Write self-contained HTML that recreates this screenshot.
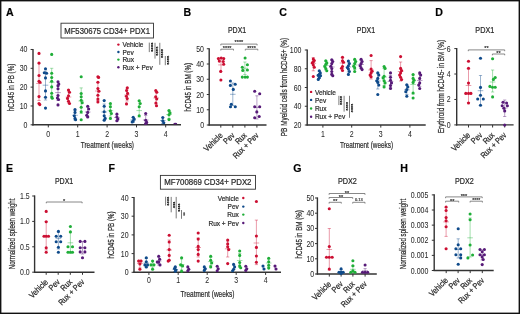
<!DOCTYPE html>
<html><head><meta charset="utf-8"><style>
html,body{margin:0;padding:0;background:#fff;}
body{width:520px;height:314px;overflow:hidden;}
svg{display:block;font-family:"Liberation Sans",sans-serif;will-change:transform;}
text{stroke:#2a2a2a;stroke-width:0.22px;}
</style></head><body>
<svg width="520" height="314" viewBox="0 0 520 314">
<rect width="520" height="314" fill="#fff"/>
<rect x="0.7" y="0.7" width="518.6" height="312.6" fill="none" stroke="#111" stroke-width="1.4"/>
<text x="5.90" y="15.60" font-size="10.60" text-anchor="start" fill="#000" font-weight="bold" >A</text>
<rect x="61" y="23.2" width="92.5" height="14.8" fill="none" stroke="#333333" stroke-width="0.9"/>
<text x="107.10" y="33.90" font-size="8.20" text-anchor="middle" fill="#2a2a2a" textLength="85.80" lengthAdjust="spacingAndGlyphs" >MF530675 CD34+ PDX1</text>
<line x1="33.00" y1="125.40" x2="33.00" y2="48.88" stroke="#333333" stroke-width="1.40" />
<line x1="30.60" y1="124.80" x2="33.00" y2="124.80" stroke="#333333" stroke-width="1.00" />
<text x="27.40" y="127.80" font-size="8.60" text-anchor="end" fill="#2a2a2a" textLength="3.87" lengthAdjust="spacingAndGlyphs" style="stroke-width:0.05px">0</text>
<line x1="30.60" y1="105.97" x2="33.00" y2="105.97" stroke="#333333" stroke-width="1.00" />
<text x="27.40" y="108.97" font-size="8.60" text-anchor="end" fill="#2a2a2a" textLength="7.75" lengthAdjust="spacingAndGlyphs" style="stroke-width:0.05px">10</text>
<line x1="30.60" y1="87.14" x2="33.00" y2="87.14" stroke="#333333" stroke-width="1.00" />
<text x="27.40" y="90.14" font-size="8.60" text-anchor="end" fill="#2a2a2a" textLength="7.75" lengthAdjust="spacingAndGlyphs" style="stroke-width:0.05px">20</text>
<line x1="30.60" y1="68.31" x2="33.00" y2="68.31" stroke="#333333" stroke-width="1.00" />
<text x="27.40" y="71.31" font-size="8.60" text-anchor="end" fill="#2a2a2a" textLength="7.75" lengthAdjust="spacingAndGlyphs" style="stroke-width:0.05px">30</text>
<line x1="30.60" y1="49.48" x2="33.00" y2="49.48" stroke="#333333" stroke-width="1.00" />
<text x="27.40" y="52.48" font-size="8.60" text-anchor="end" fill="#2a2a2a" textLength="7.75" lengthAdjust="spacingAndGlyphs" style="stroke-width:0.05px">40</text>
<line x1="32.30" y1="124.80" x2="181.00" y2="124.80" stroke="#333333" stroke-width="1.40" />
<line x1="48.30" y1="124.80" x2="48.30" y2="127.40" stroke="#333333" stroke-width="1.00" />
<line x1="77.70" y1="124.80" x2="77.70" y2="127.40" stroke="#333333" stroke-width="1.00" />
<line x1="107.10" y1="124.80" x2="107.10" y2="127.40" stroke="#333333" stroke-width="1.00" />
<line x1="136.50" y1="124.80" x2="136.50" y2="127.40" stroke="#333333" stroke-width="1.00" />
<line x1="165.70" y1="124.80" x2="165.70" y2="127.40" stroke="#333333" stroke-width="1.00" />
<text x="48.30" y="136.80" font-size="8.60" text-anchor="middle" fill="#2a2a2a" textLength="3.87" lengthAdjust="spacingAndGlyphs" style="stroke-width:0.05px">0</text>
<text x="77.70" y="136.80" font-size="8.60" text-anchor="middle" fill="#2a2a2a" textLength="3.87" lengthAdjust="spacingAndGlyphs" style="stroke-width:0.05px">1</text>
<text x="107.10" y="136.80" font-size="8.60" text-anchor="middle" fill="#2a2a2a" textLength="3.87" lengthAdjust="spacingAndGlyphs" style="stroke-width:0.05px">2</text>
<text x="136.50" y="136.80" font-size="8.60" text-anchor="middle" fill="#2a2a2a" textLength="3.87" lengthAdjust="spacingAndGlyphs" style="stroke-width:0.05px">3</text>
<text x="165.70" y="136.80" font-size="8.60" text-anchor="middle" fill="#2a2a2a" textLength="3.87" lengthAdjust="spacingAndGlyphs" style="stroke-width:0.05px">4</text>
<text x="107.40" y="148.40" font-size="9.80" text-anchor="middle" fill="#2a2a2a" textLength="53.20" lengthAdjust="spacingAndGlyphs" >Treatment (weeks)</text>
<text transform="translate(10.80,87.50) rotate(-90)" x="0" y="3.53" font-size="9.80" text-anchor="middle" fill="#2a2a2a" textLength="47.60" lengthAdjust="spacingAndGlyphs">hCD45 in PB (%)</text>
<circle cx="118.40" cy="44.60" r="1.20" fill="#cc0f32"/>
<text x="122.40" y="47.37" font-size="7.70" text-anchor="start" fill="#2a2a2a" textLength="21.10" lengthAdjust="spacingAndGlyphs" >Vehicle</text>
<circle cx="118.40" cy="52.00" r="1.20" fill="#0f4a8a"/>
<text x="122.40" y="54.77" font-size="7.70" text-anchor="start" fill="#2a2a2a" textLength="11.28" lengthAdjust="spacingAndGlyphs" >Pev</text>
<circle cx="118.40" cy="59.60" r="1.20" fill="#1fae38"/>
<text x="122.40" y="62.37" font-size="7.70" text-anchor="start" fill="#2a2a2a" textLength="11.64" lengthAdjust="spacingAndGlyphs" >Rux</text>
<circle cx="118.40" cy="67.30" r="1.20" fill="#571a78"/>
<text x="122.40" y="70.07" font-size="7.70" text-anchor="start" fill="#2a2a2a" textLength="30.38" lengthAdjust="spacingAndGlyphs" >Rux + Pev</text>
<line x1="149.30" y1="42.60" x2="149.30" y2="52.10" stroke="#5a5a5a" stroke-width="0.80" />
<text transform="translate(148.80,47.15) rotate(90)" x="0" y="0" font-size="5.9" text-anchor="middle" fill="#000" style="stroke:#000;stroke-width:0.2px" textLength="9.50" lengthAdjust="spacingAndGlyphs">****</text>
<line x1="155.00" y1="42.80" x2="155.00" y2="58.60" stroke="#5a5a5a" stroke-width="0.80" />
<text transform="translate(154.30,51.15) rotate(90)" x="0" y="0" font-size="5.9" text-anchor="middle" fill="#000" style="stroke:#000;stroke-width:0.2px" textLength="9.10" lengthAdjust="spacingAndGlyphs">****</text>
<line x1="159.80" y1="42.80" x2="159.80" y2="64.80" stroke="#5a5a5a" stroke-width="0.80" />
<text transform="translate(159.30,53.50) rotate(90)" x="0" y="0" font-size="5.9" text-anchor="middle" fill="#000" style="stroke:#000;stroke-width:0.2px" textLength="9.00" lengthAdjust="spacingAndGlyphs">****</text>
<line x1="165.30" y1="56.00" x2="165.30" y2="65.20" stroke="#5a5a5a" stroke-width="0.80" />
<text transform="translate(164.50,60.25) rotate(90)" x="0" y="0" font-size="5.9" text-anchor="middle" fill="#000" style="stroke:#000;stroke-width:0.2px" textLength="9.10" lengthAdjust="spacingAndGlyphs">****</text>
<g stroke="#cc0f32" stroke-width="0.75" stroke-opacity="0.55">
<line x1="39.00" y1="63.50" x2="39.00" y2="100.50"/>
<line x1="37.40" y1="63.50" x2="40.60" y2="63.50"/>
<line x1="37.40" y1="100.50" x2="40.60" y2="100.50"/>
<line x1="36.20" y1="83.50" x2="41.80" y2="83.50"/>
</g>
<circle cx="39.00" cy="53.40" r="1.55" fill="#cc0f32"/>
<circle cx="39.00" cy="63.10" r="1.55" fill="#cc0f32"/>
<circle cx="39.00" cy="75.50" r="1.55" fill="#cc0f32"/>
<circle cx="39.00" cy="81.20" r="1.55" fill="#cc0f32"/>
<circle cx="40.00" cy="82.30" r="1.55" fill="#cc0f32"/>
<circle cx="39.00" cy="96.60" r="1.55" fill="#cc0f32"/>
<circle cx="39.00" cy="103.50" r="1.55" fill="#cc0f32"/>
<circle cx="39.80" cy="104.60" r="1.55" fill="#cc0f32"/>
<g stroke="#0f4a8a" stroke-width="0.75" stroke-opacity="0.55">
<line x1="45.50" y1="71.00" x2="45.50" y2="100.00"/>
<line x1="43.90" y1="71.00" x2="47.10" y2="71.00"/>
<line x1="43.90" y1="100.00" x2="47.10" y2="100.00"/>
<line x1="42.70" y1="85.20" x2="48.30" y2="85.20"/>
</g>
<circle cx="45.50" cy="68.80" r="1.55" fill="#0f4a8a"/>
<circle cx="44.30" cy="72.80" r="1.55" fill="#0f4a8a"/>
<circle cx="46.60" cy="73.20" r="1.55" fill="#0f4a8a"/>
<circle cx="45.50" cy="77.90" r="1.55" fill="#0f4a8a"/>
<circle cx="45.50" cy="90.90" r="1.55" fill="#0f4a8a"/>
<circle cx="45.50" cy="97.20" r="1.55" fill="#0f4a8a"/>
<circle cx="45.50" cy="108.10" r="1.55" fill="#0f4a8a"/>
<g stroke="#1fae38" stroke-width="0.75" stroke-opacity="0.55">
<line x1="51.70" y1="68.30" x2="51.70" y2="96.00"/>
<line x1="50.10" y1="68.30" x2="53.30" y2="68.30"/>
<line x1="50.10" y1="96.00" x2="53.30" y2="96.00"/>
<line x1="48.90" y1="82.30" x2="54.50" y2="82.30"/>
</g>
<circle cx="51.70" cy="54.40" r="1.55" fill="#1fae38"/>
<circle cx="51.70" cy="73.30" r="1.55" fill="#1fae38"/>
<circle cx="51.70" cy="77.50" r="1.55" fill="#1fae38"/>
<circle cx="51.70" cy="81.20" r="1.55" fill="#1fae38"/>
<circle cx="51.70" cy="86.90" r="1.55" fill="#1fae38"/>
<circle cx="51.70" cy="93.20" r="1.55" fill="#1fae38"/>
<circle cx="51.70" cy="97.00" r="1.55" fill="#1fae38"/>
<circle cx="52.30" cy="98.30" r="1.55" fill="#1fae38"/>
<g stroke="#571a78" stroke-width="0.75" stroke-opacity="0.55">
<line x1="58.00" y1="85.00" x2="58.00" y2="100.50"/>
<line x1="56.40" y1="85.00" x2="59.60" y2="85.00"/>
<line x1="56.40" y1="100.50" x2="59.60" y2="100.50"/>
<line x1="55.20" y1="92.60" x2="60.80" y2="92.60"/>
</g>
<circle cx="58.00" cy="81.70" r="1.55" fill="#571a78"/>
<circle cx="58.80" cy="84.00" r="1.55" fill="#571a78"/>
<circle cx="58.00" cy="85.70" r="1.55" fill="#571a78"/>
<circle cx="58.00" cy="88.80" r="1.55" fill="#571a78"/>
<circle cx="58.00" cy="95.50" r="1.55" fill="#571a78"/>
<circle cx="57.40" cy="98.00" r="1.55" fill="#571a78"/>
<circle cx="58.50" cy="99.50" r="1.55" fill="#571a78"/>
<circle cx="58.00" cy="104.90" r="1.55" fill="#571a78"/>
<g stroke="#cc0f32" stroke-width="0.75" stroke-opacity="0.55">
<line x1="68.50" y1="91.00" x2="68.50" y2="103.00"/>
<line x1="66.90" y1="91.00" x2="70.10" y2="91.00"/>
<line x1="66.90" y1="103.00" x2="70.10" y2="103.00"/>
<line x1="65.70" y1="97.00" x2="71.30" y2="97.00"/>
</g>
<circle cx="68.50" cy="90.10" r="1.55" fill="#cc0f32"/>
<circle cx="69.50" cy="92.30" r="1.55" fill="#cc0f32"/>
<circle cx="68.50" cy="95.70" r="1.55" fill="#cc0f32"/>
<circle cx="67.50" cy="98.40" r="1.55" fill="#cc0f32"/>
<circle cx="68.50" cy="101.30" r="1.55" fill="#cc0f32"/>
<circle cx="69.50" cy="103.50" r="1.55" fill="#cc0f32"/>
<g stroke="#0f4a8a" stroke-width="0.75" stroke-opacity="0.55">
<line x1="75.00" y1="110.50" x2="75.00" y2="120.00"/>
<line x1="73.40" y1="110.50" x2="76.60" y2="110.50"/>
<line x1="73.40" y1="120.00" x2="76.60" y2="120.00"/>
<line x1="72.20" y1="115.30" x2="77.80" y2="115.30"/>
</g>
<circle cx="75.00" cy="109.50" r="1.55" fill="#0f4a8a"/>
<circle cx="75.00" cy="112.40" r="1.55" fill="#0f4a8a"/>
<circle cx="74.30" cy="115.80" r="1.55" fill="#0f4a8a"/>
<circle cx="75.00" cy="118.40" r="1.55" fill="#0f4a8a"/>
<circle cx="75.60" cy="119.80" r="1.55" fill="#0f4a8a"/>
<g stroke="#1fae38" stroke-width="0.75" stroke-opacity="0.55">
<line x1="81.20" y1="87.90" x2="81.20" y2="113.50"/>
<line x1="79.60" y1="87.90" x2="82.80" y2="87.90"/>
<line x1="79.60" y1="113.50" x2="82.80" y2="113.50"/>
<line x1="78.40" y1="101.00" x2="84.00" y2="101.00"/>
</g>
<circle cx="81.20" cy="76.70" r="1.55" fill="#1fae38"/>
<circle cx="81.20" cy="93.50" r="1.55" fill="#1fae38"/>
<circle cx="81.20" cy="96.80" r="1.55" fill="#1fae38"/>
<circle cx="81.20" cy="100.20" r="1.55" fill="#1fae38"/>
<circle cx="82.20" cy="102.80" r="1.55" fill="#1fae38"/>
<circle cx="81.20" cy="107.30" r="1.55" fill="#1fae38"/>
<circle cx="81.20" cy="111.70" r="1.55" fill="#1fae38"/>
<circle cx="81.20" cy="119.80" r="1.55" fill="#1fae38"/>
<g stroke="#571a78" stroke-width="0.75" stroke-opacity="0.55">
<line x1="87.70" y1="107.00" x2="87.70" y2="117.00"/>
<line x1="86.10" y1="107.00" x2="89.30" y2="107.00"/>
<line x1="86.10" y1="117.00" x2="89.30" y2="117.00"/>
<line x1="84.90" y1="112.00" x2="90.50" y2="112.00"/>
</g>
<circle cx="87.70" cy="106.20" r="1.55" fill="#571a78"/>
<circle cx="88.70" cy="109.00" r="1.55" fill="#571a78"/>
<circle cx="87.70" cy="112.40" r="1.55" fill="#571a78"/>
<circle cx="86.70" cy="115.30" r="1.55" fill="#571a78"/>
<circle cx="87.70" cy="116.90" r="1.55" fill="#571a78"/>
<g stroke="#cc0f32" stroke-width="0.75" stroke-opacity="0.55">
<line x1="97.90" y1="82.30" x2="97.90" y2="100.50"/>
<line x1="96.30" y1="82.30" x2="99.50" y2="82.30"/>
<line x1="96.30" y1="100.50" x2="99.50" y2="100.50"/>
<line x1="95.10" y1="91.00" x2="100.70" y2="91.00"/>
</g>
<circle cx="97.90" cy="76.70" r="1.55" fill="#cc0f32"/>
<circle cx="98.60" cy="77.40" r="1.55" fill="#cc0f32"/>
<circle cx="97.90" cy="82.30" r="1.55" fill="#cc0f32"/>
<circle cx="97.90" cy="88.60" r="1.55" fill="#cc0f32"/>
<circle cx="98.90" cy="91.20" r="1.55" fill="#cc0f32"/>
<circle cx="97.90" cy="95.20" r="1.55" fill="#cc0f32"/>
<circle cx="97.90" cy="99.00" r="1.55" fill="#cc0f32"/>
<circle cx="97.90" cy="101.90" r="1.55" fill="#cc0f32"/>
<g stroke="#0f4a8a" stroke-width="0.75" stroke-opacity="0.55">
<line x1="104.20" y1="104.00" x2="104.20" y2="120.00"/>
<line x1="102.60" y1="104.00" x2="105.80" y2="104.00"/>
<line x1="102.60" y1="120.00" x2="105.80" y2="120.00"/>
<line x1="101.40" y1="112.00" x2="107.00" y2="112.00"/>
</g>
<circle cx="104.20" cy="100.60" r="1.55" fill="#0f4a8a"/>
<circle cx="104.20" cy="106.20" r="1.55" fill="#0f4a8a"/>
<circle cx="104.20" cy="111.80" r="1.55" fill="#0f4a8a"/>
<circle cx="104.20" cy="115.80" r="1.55" fill="#0f4a8a"/>
<circle cx="105.20" cy="118.40" r="1.55" fill="#0f4a8a"/>
<circle cx="104.20" cy="120.20" r="1.55" fill="#0f4a8a"/>
<g stroke="#1fae38" stroke-width="0.75" stroke-opacity="0.55">
<line x1="110.40" y1="105.00" x2="110.40" y2="116.00"/>
<line x1="108.80" y1="105.00" x2="112.00" y2="105.00"/>
<line x1="108.80" y1="116.00" x2="112.00" y2="116.00"/>
<line x1="107.60" y1="110.70" x2="113.20" y2="110.70"/>
</g>
<circle cx="110.40" cy="103.50" r="1.55" fill="#1fae38"/>
<circle cx="110.40" cy="106.80" r="1.55" fill="#1fae38"/>
<circle cx="110.40" cy="110.90" r="1.55" fill="#1fae38"/>
<circle cx="111.40" cy="113.50" r="1.55" fill="#1fae38"/>
<circle cx="110.40" cy="118.40" r="1.55" fill="#1fae38"/>
<g stroke="#571a78" stroke-width="0.75" stroke-opacity="0.55">
<line x1="116.90" y1="114.50" x2="116.90" y2="121.00"/>
<line x1="115.30" y1="114.50" x2="118.50" y2="114.50"/>
<line x1="115.30" y1="121.00" x2="118.50" y2="121.00"/>
<line x1="114.10" y1="117.50" x2="119.70" y2="117.50"/>
</g>
<circle cx="116.90" cy="114.00" r="1.55" fill="#571a78"/>
<circle cx="116.90" cy="116.90" r="1.55" fill="#571a78"/>
<circle cx="117.90" cy="119.10" r="1.55" fill="#571a78"/>
<circle cx="116.90" cy="120.70" r="1.55" fill="#571a78"/>
<g stroke="#cc0f32" stroke-width="0.75" stroke-opacity="0.55">
<line x1="127.00" y1="89.00" x2="127.00" y2="101.00"/>
<line x1="125.40" y1="89.00" x2="128.60" y2="89.00"/>
<line x1="125.40" y1="101.00" x2="128.60" y2="101.00"/>
<line x1="124.20" y1="95.00" x2="129.80" y2="95.00"/>
</g>
<circle cx="127.30" cy="87.80" r="1.55" fill="#cc0f32"/>
<circle cx="126.60" cy="90.50" r="1.55" fill="#cc0f32"/>
<circle cx="127.60" cy="93.40" r="1.55" fill="#cc0f32"/>
<circle cx="126.40" cy="96.30" r="1.55" fill="#cc0f32"/>
<circle cx="127.20" cy="98.60" r="1.55" fill="#cc0f32"/>
<circle cx="126.50" cy="103.90" r="1.55" fill="#cc0f32"/>
<g stroke="#0f4a8a" stroke-width="0.75" stroke-opacity="0.55">
<line x1="133.20" y1="117.50" x2="133.20" y2="122.50"/>
<line x1="131.60" y1="117.50" x2="134.80" y2="117.50"/>
<line x1="131.60" y1="122.50" x2="134.80" y2="122.50"/>
<line x1="130.40" y1="120.00" x2="136.00" y2="120.00"/>
</g>
<circle cx="133.20" cy="117.30" r="1.55" fill="#0f4a8a"/>
<circle cx="134.20" cy="119.00" r="1.55" fill="#0f4a8a"/>
<circle cx="133.20" cy="120.90" r="1.55" fill="#0f4a8a"/>
<circle cx="132.20" cy="122.00" r="1.55" fill="#0f4a8a"/>
<g stroke="#1fae38" stroke-width="0.75" stroke-opacity="0.55">
<line x1="139.20" y1="101.00" x2="139.20" y2="117.00"/>
<line x1="137.60" y1="101.00" x2="140.80" y2="101.00"/>
<line x1="137.60" y1="117.00" x2="140.80" y2="117.00"/>
<line x1="136.40" y1="110.60" x2="142.00" y2="110.60"/>
</g>
<circle cx="139.20" cy="100.80" r="1.55" fill="#1fae38"/>
<circle cx="140.20" cy="103.50" r="1.55" fill="#1fae38"/>
<circle cx="139.20" cy="106.80" r="1.55" fill="#1fae38"/>
<circle cx="139.20" cy="115.70" r="1.55" fill="#1fae38"/>
<g stroke="#571a78" stroke-width="0.75" stroke-opacity="0.55">
<line x1="145.70" y1="115.50" x2="145.70" y2="124.00"/>
<line x1="144.10" y1="115.50" x2="147.30" y2="115.50"/>
<line x1="144.10" y1="124.00" x2="147.30" y2="124.00"/>
<line x1="142.90" y1="120.00" x2="148.50" y2="120.00"/>
</g>
<circle cx="145.70" cy="113.50" r="1.55" fill="#571a78"/>
<circle cx="145.70" cy="120.20" r="1.55" fill="#571a78"/>
<circle cx="146.70" cy="122.40" r="1.55" fill="#571a78"/>
<circle cx="145.70" cy="123.50" r="1.55" fill="#571a78"/>
<g stroke="#cc0f32" stroke-width="0.75" stroke-opacity="0.55">
<line x1="156.20" y1="92.00" x2="156.20" y2="104.00"/>
<line x1="154.60" y1="92.00" x2="157.80" y2="92.00"/>
<line x1="154.60" y1="104.00" x2="157.80" y2="104.00"/>
<line x1="153.40" y1="98.00" x2="159.00" y2="98.00"/>
</g>
<circle cx="155.80" cy="90.50" r="1.55" fill="#cc0f32"/>
<circle cx="156.80" cy="92.30" r="1.55" fill="#cc0f32"/>
<circle cx="155.70" cy="96.80" r="1.55" fill="#cc0f32"/>
<circle cx="156.70" cy="99.00" r="1.55" fill="#cc0f32"/>
<circle cx="155.90" cy="103.00" r="1.55" fill="#cc0f32"/>
<circle cx="156.50" cy="105.70" r="1.55" fill="#cc0f32"/>
<g stroke="#0f4a8a" stroke-width="0.75" stroke-opacity="0.55">
<line x1="162.80" y1="117.50" x2="162.80" y2="123.50"/>
<line x1="161.20" y1="117.50" x2="164.40" y2="117.50"/>
<line x1="161.20" y1="123.50" x2="164.40" y2="123.50"/>
<line x1="160.00" y1="120.50" x2="165.60" y2="120.50"/>
</g>
<circle cx="162.80" cy="117.50" r="1.55" fill="#0f4a8a"/>
<circle cx="162.80" cy="120.90" r="1.55" fill="#0f4a8a"/>
<circle cx="163.80" cy="122.80" r="1.55" fill="#0f4a8a"/>
<g stroke="#1fae38" stroke-width="0.75" stroke-opacity="0.55">
<line x1="169.00" y1="111.00" x2="169.00" y2="118.50"/>
<line x1="167.40" y1="111.00" x2="170.60" y2="111.00"/>
<line x1="167.40" y1="118.50" x2="170.60" y2="118.50"/>
<line x1="166.20" y1="114.50" x2="171.80" y2="114.50"/>
</g>
<circle cx="169.00" cy="110.60" r="1.55" fill="#1fae38"/>
<circle cx="170.00" cy="112.90" r="1.55" fill="#1fae38"/>
<circle cx="169.00" cy="114.80" r="1.55" fill="#1fae38"/>
<circle cx="169.00" cy="119.60" r="1.55" fill="#1fae38"/>
<ellipse cx="175.3" cy="123.6" rx="1.9" ry="0.9" fill="#571a78"/>
<text x="183.50" y="15.80" font-size="10.60" text-anchor="start" fill="#000" font-weight="bold" >B</text>
<text x="237.10" y="33.30" font-size="8.60" text-anchor="middle" fill="#2a2a2a" textLength="18.30" lengthAdjust="spacingAndGlyphs" >PDX1</text>
<line x1="209.20" y1="125.60" x2="209.20" y2="48.15" stroke="#333333" stroke-width="1.40" />
<line x1="206.80" y1="125.00" x2="209.20" y2="125.00" stroke="#333333" stroke-width="1.00" />
<text x="204.00" y="128.00" font-size="8.60" text-anchor="end" fill="#2a2a2a" textLength="3.87" lengthAdjust="spacingAndGlyphs" style="stroke-width:0.05px">0</text>
<line x1="206.80" y1="109.75" x2="209.20" y2="109.75" stroke="#333333" stroke-width="1.00" />
<text x="204.00" y="112.75" font-size="8.60" text-anchor="end" fill="#2a2a2a" textLength="7.75" lengthAdjust="spacingAndGlyphs" style="stroke-width:0.05px">10</text>
<line x1="206.80" y1="94.50" x2="209.20" y2="94.50" stroke="#333333" stroke-width="1.00" />
<text x="204.00" y="97.50" font-size="8.60" text-anchor="end" fill="#2a2a2a" textLength="7.75" lengthAdjust="spacingAndGlyphs" style="stroke-width:0.05px">20</text>
<line x1="206.80" y1="79.25" x2="209.20" y2="79.25" stroke="#333333" stroke-width="1.00" />
<text x="204.00" y="82.25" font-size="8.60" text-anchor="end" fill="#2a2a2a" textLength="7.75" lengthAdjust="spacingAndGlyphs" style="stroke-width:0.05px">30</text>
<line x1="206.80" y1="64.00" x2="209.20" y2="64.00" stroke="#333333" stroke-width="1.00" />
<text x="204.00" y="67.00" font-size="8.60" text-anchor="end" fill="#2a2a2a" textLength="7.75" lengthAdjust="spacingAndGlyphs" style="stroke-width:0.05px">40</text>
<line x1="206.80" y1="48.75" x2="209.20" y2="48.75" stroke="#333333" stroke-width="1.00" />
<text x="204.00" y="51.75" font-size="8.60" text-anchor="end" fill="#2a2a2a" textLength="7.75" lengthAdjust="spacingAndGlyphs" style="stroke-width:0.05px">50</text>
<line x1="208.50" y1="125.00" x2="266.50" y2="125.00" stroke="#333333" stroke-width="1.40" />
<line x1="220.80" y1="125.00" x2="220.80" y2="127.60" stroke="#333333" stroke-width="1.00" />
<line x1="232.80" y1="125.00" x2="232.80" y2="127.60" stroke="#333333" stroke-width="1.00" />
<line x1="244.90" y1="125.00" x2="244.90" y2="127.60" stroke="#333333" stroke-width="1.00" />
<line x1="256.90" y1="125.00" x2="256.90" y2="127.60" stroke="#333333" stroke-width="1.00" />
<text transform="translate(223.20,136.00) rotate(-45)" x="0" y="0" font-size="8.40" text-anchor="end" fill="#2a2a2a" textLength="22.75" lengthAdjust="spacingAndGlyphs">Vehicle</text>
<text transform="translate(235.20,136.00) rotate(-45)" x="0" y="0" font-size="8.40" text-anchor="end" fill="#2a2a2a" textLength="12.16" lengthAdjust="spacingAndGlyphs">Pev</text>
<text transform="translate(247.30,136.00) rotate(-45)" x="0" y="0" font-size="8.40" text-anchor="end" fill="#2a2a2a" textLength="12.55" lengthAdjust="spacingAndGlyphs">Rux</text>
<text transform="translate(259.30,136.00) rotate(-45)" x="0" y="0" font-size="8.40" text-anchor="end" fill="#2a2a2a" textLength="32.75" lengthAdjust="spacingAndGlyphs">Rux + Pev</text>
<text transform="translate(187.80,87.20) rotate(-90)" x="0" y="3.53" font-size="9.80" text-anchor="middle" fill="#2a2a2a" textLength="48.40" lengthAdjust="spacingAndGlyphs">hCD45 in BM (%)</text>
<path d="M220.80 45.40 V44.10 H257.10 V45.40" fill="none" stroke="#6a6a6a" stroke-width="0.8"/>
<text x="238.95" y="44.45" font-size="5.60" text-anchor="middle" fill="#222" style="stroke:#222;stroke-width:0.15px">****</text>
<path d="M220.80 50.50 V49.20 H233.50 V50.50" fill="none" stroke="#6a6a6a" stroke-width="0.8"/>
<text x="227.15" y="50.25" font-size="5.60" text-anchor="middle" fill="#222" style="stroke:#222;stroke-width:0.15px">****</text>
<path d="M245.30 50.50 V49.20 H257.80 V50.50" fill="none" stroke="#6a6a6a" stroke-width="0.8"/>
<text x="251.55" y="50.25" font-size="5.60" text-anchor="middle" fill="#222" style="stroke:#222;stroke-width:0.15px">****</text>
<g stroke="#cc0f32" stroke-width="0.75" stroke-opacity="0.55">
<line x1="221.00" y1="58.00" x2="221.00" y2="71.50"/>
<line x1="219.40" y1="58.00" x2="222.60" y2="58.00"/>
<line x1="219.40" y1="71.50" x2="222.60" y2="71.50"/>
<line x1="218.20" y1="64.90" x2="223.80" y2="64.90"/>
</g>
<circle cx="218.40" cy="58.60" r="1.55" fill="#cc0f32"/>
<circle cx="221.20" cy="58.00" r="1.55" fill="#cc0f32"/>
<circle cx="223.70" cy="58.60" r="1.55" fill="#cc0f32"/>
<circle cx="219.30" cy="61.10" r="1.55" fill="#cc0f32"/>
<circle cx="223.20" cy="61.50" r="1.55" fill="#cc0f32"/>
<circle cx="223.70" cy="64.30" r="1.55" fill="#cc0f32"/>
<circle cx="220.70" cy="71.40" r="1.55" fill="#cc0f32"/>
<circle cx="220.90" cy="80.00" r="1.55" fill="#cc0f32"/>
<g stroke="#0f4a8a" stroke-width="0.75" stroke-opacity="0.55">
<line x1="232.80" y1="83.00" x2="232.80" y2="105.50"/>
<line x1="231.20" y1="83.00" x2="234.40" y2="83.00"/>
<line x1="231.20" y1="105.50" x2="234.40" y2="105.50"/>
<line x1="230.00" y1="94.30" x2="235.60" y2="94.30"/>
</g>
<circle cx="230.40" cy="81.00" r="1.55" fill="#0f4a8a"/>
<circle cx="235.20" cy="84.20" r="1.55" fill="#0f4a8a"/>
<circle cx="230.40" cy="85.40" r="1.55" fill="#0f4a8a"/>
<circle cx="233.30" cy="89.40" r="1.55" fill="#0f4a8a"/>
<circle cx="231.30" cy="104.30" r="1.55" fill="#0f4a8a"/>
<circle cx="230.50" cy="106.80" r="1.55" fill="#0f4a8a"/>
<circle cx="235.30" cy="106.80" r="1.55" fill="#0f4a8a"/>
<g stroke="#1fae38" stroke-width="0.75" stroke-opacity="0.55">
<line x1="244.90" y1="62.00" x2="244.90" y2="74.50"/>
<line x1="243.30" y1="62.00" x2="246.50" y2="62.00"/>
<line x1="243.30" y1="74.50" x2="246.50" y2="74.50"/>
<line x1="242.10" y1="68.20" x2="247.70" y2="68.20"/>
</g>
<circle cx="245.10" cy="58.00" r="1.55" fill="#1fae38"/>
<circle cx="247.40" cy="64.70" r="1.55" fill="#1fae38"/>
<circle cx="242.30" cy="67.20" r="1.55" fill="#1fae38"/>
<circle cx="242.80" cy="70.40" r="1.55" fill="#1fae38"/>
<circle cx="247.40" cy="70.00" r="1.55" fill="#1fae38"/>
<circle cx="242.30" cy="77.10" r="1.55" fill="#1fae38"/>
<circle cx="245.10" cy="77.10" r="1.55" fill="#1fae38"/>
<circle cx="247.40" cy="77.10" r="1.55" fill="#1fae38"/>
<g stroke="#571a78" stroke-width="0.75" stroke-opacity="0.55">
<line x1="256.90" y1="95.80" x2="256.90" y2="119.00"/>
<line x1="255.30" y1="95.80" x2="258.50" y2="95.80"/>
<line x1="255.30" y1="119.00" x2="258.50" y2="119.00"/>
<line x1="254.10" y1="107.40" x2="259.70" y2="107.40"/>
</g>
<circle cx="254.70" cy="91.20" r="1.55" fill="#571a78"/>
<circle cx="259.70" cy="93.70" r="1.55" fill="#571a78"/>
<circle cx="254.70" cy="106.80" r="1.55" fill="#571a78"/>
<circle cx="259.70" cy="106.80" r="1.55" fill="#571a78"/>
<circle cx="256.80" cy="111.90" r="1.55" fill="#571a78"/>
<circle cx="254.70" cy="117.70" r="1.55" fill="#571a78"/>
<circle cx="259.20" cy="116.50" r="1.55" fill="#571a78"/>
<text x="279.30" y="15.80" font-size="10.60" text-anchor="start" fill="#000" font-weight="bold" >C</text>
<text x="366.00" y="33.10" font-size="8.60" text-anchor="middle" fill="#2a2a2a" textLength="18.30" lengthAdjust="spacingAndGlyphs" >PDX1</text>
<line x1="307.20" y1="125.60" x2="307.20" y2="49.40" stroke="#333333" stroke-width="1.40" />
<line x1="304.80" y1="125.00" x2="307.20" y2="125.00" stroke="#333333" stroke-width="1.00" />
<text x="301.40" y="128.00" font-size="8.60" text-anchor="end" fill="#2a2a2a" textLength="7.75" lengthAdjust="spacingAndGlyphs" style="stroke-width:0.05px">20</text>
<line x1="304.80" y1="106.25" x2="307.20" y2="106.25" stroke="#333333" stroke-width="1.00" />
<text x="301.40" y="109.25" font-size="8.60" text-anchor="end" fill="#2a2a2a" textLength="7.75" lengthAdjust="spacingAndGlyphs" style="stroke-width:0.05px">40</text>
<line x1="304.80" y1="87.50" x2="307.20" y2="87.50" stroke="#333333" stroke-width="1.00" />
<text x="301.40" y="90.50" font-size="8.60" text-anchor="end" fill="#2a2a2a" textLength="7.75" lengthAdjust="spacingAndGlyphs" style="stroke-width:0.05px">60</text>
<line x1="304.80" y1="68.75" x2="307.20" y2="68.75" stroke="#333333" stroke-width="1.00" />
<text x="301.40" y="71.75" font-size="8.60" text-anchor="end" fill="#2a2a2a" textLength="7.75" lengthAdjust="spacingAndGlyphs" style="stroke-width:0.05px">80</text>
<line x1="304.80" y1="50.00" x2="307.20" y2="50.00" stroke="#333333" stroke-width="1.00" />
<text x="301.40" y="53.00" font-size="8.60" text-anchor="end" fill="#2a2a2a" textLength="11.62" lengthAdjust="spacingAndGlyphs" style="stroke-width:0.05px">100</text>
<line x1="306.50" y1="125.00" x2="425.70" y2="125.00" stroke="#333333" stroke-width="1.40" />
<line x1="322.90" y1="125.00" x2="322.90" y2="127.60" stroke="#333333" stroke-width="1.00" />
<line x1="351.70" y1="125.00" x2="351.70" y2="127.60" stroke="#333333" stroke-width="1.00" />
<line x1="380.80" y1="125.00" x2="380.80" y2="127.60" stroke="#333333" stroke-width="1.00" />
<line x1="409.90" y1="125.00" x2="409.90" y2="127.60" stroke="#333333" stroke-width="1.00" />
<text x="322.90" y="136.90" font-size="8.60" text-anchor="middle" fill="#2a2a2a" textLength="3.87" lengthAdjust="spacingAndGlyphs" style="stroke-width:0.05px">1</text>
<text x="351.70" y="136.90" font-size="8.60" text-anchor="middle" fill="#2a2a2a" textLength="3.87" lengthAdjust="spacingAndGlyphs" style="stroke-width:0.05px">2</text>
<text x="380.80" y="136.90" font-size="8.60" text-anchor="middle" fill="#2a2a2a" textLength="3.87" lengthAdjust="spacingAndGlyphs" style="stroke-width:0.05px">3</text>
<text x="409.90" y="136.90" font-size="8.60" text-anchor="middle" fill="#2a2a2a" textLength="3.87" lengthAdjust="spacingAndGlyphs" style="stroke-width:0.05px">4</text>
<text x="366.50" y="148.10" font-size="9.80" text-anchor="middle" fill="#2a2a2a" textLength="53.10" lengthAdjust="spacingAndGlyphs" >Treatment (weeks)</text>
<text transform="translate(283.90,87.00) rotate(-90)" x="0" y="3.53" font-size="9.80" text-anchor="middle" fill="#2a2a2a" textLength="98.30" lengthAdjust="spacingAndGlyphs">PB Myeloid cells from hCD45+ (%)</text>
<circle cx="311.10" cy="91.90" r="1.20" fill="#cc0f32"/>
<text x="314.90" y="94.67" font-size="7.70" text-anchor="start" fill="#2a2a2a" textLength="21.10" lengthAdjust="spacingAndGlyphs" >Vehicle</text>
<circle cx="311.10" cy="99.90" r="1.20" fill="#0f4a8a"/>
<text x="314.90" y="102.67" font-size="7.70" text-anchor="start" fill="#2a2a2a" textLength="11.28" lengthAdjust="spacingAndGlyphs" >Pev</text>
<circle cx="311.10" cy="108.50" r="1.20" fill="#1fae38"/>
<text x="314.90" y="111.27" font-size="7.70" text-anchor="start" fill="#2a2a2a" textLength="11.64" lengthAdjust="spacingAndGlyphs" >Rux</text>
<circle cx="311.10" cy="116.70" r="1.20" fill="#571a78"/>
<text x="314.90" y="119.47" font-size="7.70" text-anchor="start" fill="#2a2a2a" textLength="30.38" lengthAdjust="spacingAndGlyphs" >Rux + Pev</text>
<line x1="338.90" y1="95.80" x2="338.90" y2="105.10" stroke="#5a5a5a" stroke-width="0.80" />
<text transform="translate(338.10,100.50) rotate(90)" x="0" y="0" font-size="5.9" text-anchor="middle" fill="#000" style="stroke:#000;stroke-width:0.2px" textLength="9.00" lengthAdjust="spacingAndGlyphs">****</text>
<line x1="344.10" y1="95.80" x2="344.10" y2="111.60" stroke="#5a5a5a" stroke-width="0.80" />
<text transform="translate(343.50,106.35) rotate(90)" x="0" y="0" font-size="5.9" text-anchor="middle" fill="#000" style="stroke:#000;stroke-width:0.2px" textLength="8.70" lengthAdjust="spacingAndGlyphs">****</text>
<line x1="349.50" y1="95.80" x2="349.50" y2="117.80" stroke="#5a5a5a" stroke-width="0.80" />
<text transform="translate(349.00,108.05) rotate(90)" x="0" y="0" font-size="5.9" text-anchor="middle" fill="#000" style="stroke:#000;stroke-width:0.2px" textLength="8.70" lengthAdjust="spacingAndGlyphs">****</text>
<g stroke="#cc0f32" stroke-width="0.75" stroke-opacity="0.55">
<line x1="313.30" y1="57.50" x2="313.30" y2="70.80"/>
<line x1="311.70" y1="57.50" x2="314.90" y2="57.50"/>
<line x1="311.70" y1="70.80" x2="314.90" y2="70.80"/>
<line x1="310.50" y1="63.30" x2="316.10" y2="63.30"/>
</g>
<circle cx="313.30" cy="59.00" r="1.55" fill="#cc0f32"/>
<circle cx="314.30" cy="60.50" r="1.55" fill="#cc0f32"/>
<circle cx="313.30" cy="61.90" r="1.55" fill="#cc0f32"/>
<circle cx="312.30" cy="62.90" r="1.55" fill="#cc0f32"/>
<circle cx="313.30" cy="65.00" r="1.55" fill="#cc0f32"/>
<circle cx="314.30" cy="67.20" r="1.55" fill="#cc0f32"/>
<circle cx="313.30" cy="76.50" r="1.55" fill="#cc0f32"/>
<g stroke="#0f4a8a" stroke-width="0.75" stroke-opacity="0.55">
<line x1="319.30" y1="71.50" x2="319.30" y2="78.50"/>
<line x1="317.70" y1="71.50" x2="320.90" y2="71.50"/>
<line x1="317.70" y1="78.50" x2="320.90" y2="78.50"/>
<line x1="316.50" y1="75.00" x2="322.10" y2="75.00"/>
</g>
<circle cx="319.30" cy="70.80" r="1.55" fill="#0f4a8a"/>
<circle cx="320.30" cy="72.90" r="1.55" fill="#0f4a8a"/>
<circle cx="319.30" cy="74.40" r="1.55" fill="#0f4a8a"/>
<circle cx="318.20" cy="75.40" r="1.55" fill="#0f4a8a"/>
<circle cx="320.50" cy="75.80" r="1.55" fill="#0f4a8a"/>
<circle cx="319.30" cy="77.70" r="1.55" fill="#0f4a8a"/>
<circle cx="318.30" cy="79.40" r="1.55" fill="#0f4a8a"/>
<g stroke="#1fae38" stroke-width="0.75" stroke-opacity="0.55">
<line x1="325.80" y1="61.00" x2="325.80" y2="70.00"/>
<line x1="324.20" y1="61.00" x2="327.40" y2="61.00"/>
<line x1="324.20" y1="70.00" x2="327.40" y2="70.00"/>
<line x1="323.00" y1="65.50" x2="328.60" y2="65.50"/>
</g>
<circle cx="325.80" cy="60.80" r="1.55" fill="#1fae38"/>
<circle cx="326.80" cy="62.90" r="1.55" fill="#1fae38"/>
<circle cx="325.80" cy="64.30" r="1.55" fill="#1fae38"/>
<circle cx="324.80" cy="66.50" r="1.55" fill="#1fae38"/>
<circle cx="325.80" cy="68.60" r="1.55" fill="#1fae38"/>
<circle cx="326.80" cy="70.80" r="1.55" fill="#1fae38"/>
<g stroke="#571a78" stroke-width="0.75" stroke-opacity="0.55">
<line x1="331.80" y1="60.00" x2="331.80" y2="74.00"/>
<line x1="330.20" y1="60.00" x2="333.40" y2="60.00"/>
<line x1="330.20" y1="74.00" x2="333.40" y2="74.00"/>
<line x1="329.00" y1="67.00" x2="334.60" y2="67.00"/>
</g>
<circle cx="331.80" cy="59.80" r="1.55" fill="#571a78"/>
<circle cx="332.80" cy="61.50" r="1.55" fill="#571a78"/>
<circle cx="331.80" cy="63.60" r="1.55" fill="#571a78"/>
<circle cx="330.80" cy="66.20" r="1.55" fill="#571a78"/>
<circle cx="331.80" cy="68.60" r="1.55" fill="#571a78"/>
<circle cx="331.80" cy="71.50" r="1.55" fill="#571a78"/>
<circle cx="331.80" cy="74.40" r="1.55" fill="#571a78"/>
<circle cx="332.80" cy="75.80" r="1.55" fill="#571a78"/>
<g stroke="#cc0f32" stroke-width="0.75" stroke-opacity="0.55">
<line x1="342.50" y1="58.00" x2="342.50" y2="68.50"/>
<line x1="340.90" y1="58.00" x2="344.10" y2="58.00"/>
<line x1="340.90" y1="68.50" x2="344.10" y2="68.50"/>
<line x1="339.70" y1="63.00" x2="345.30" y2="63.00"/>
</g>
<circle cx="342.50" cy="57.20" r="1.55" fill="#cc0f32"/>
<circle cx="342.50" cy="60.80" r="1.55" fill="#cc0f32"/>
<circle cx="343.50" cy="62.20" r="1.55" fill="#cc0f32"/>
<circle cx="342.50" cy="66.50" r="1.55" fill="#cc0f32"/>
<circle cx="341.50" cy="68.20" r="1.55" fill="#cc0f32"/>
<circle cx="342.50" cy="70.50" r="1.55" fill="#cc0f32"/>
<g stroke="#0f4a8a" stroke-width="0.75" stroke-opacity="0.55">
<line x1="348.40" y1="62.00" x2="348.40" y2="72.00"/>
<line x1="346.80" y1="62.00" x2="350.00" y2="62.00"/>
<line x1="346.80" y1="72.00" x2="350.00" y2="72.00"/>
<line x1="345.60" y1="67.00" x2="351.20" y2="67.00"/>
</g>
<circle cx="348.40" cy="61.00" r="1.55" fill="#0f4a8a"/>
<circle cx="349.40" cy="63.60" r="1.55" fill="#0f4a8a"/>
<circle cx="348.40" cy="65.80" r="1.55" fill="#0f4a8a"/>
<circle cx="347.40" cy="67.60" r="1.55" fill="#0f4a8a"/>
<circle cx="348.40" cy="69.10" r="1.55" fill="#0f4a8a"/>
<circle cx="349.40" cy="71.50" r="1.55" fill="#0f4a8a"/>
<circle cx="348.40" cy="74.40" r="1.55" fill="#0f4a8a"/>
<g stroke="#1fae38" stroke-width="0.75" stroke-opacity="0.55">
<line x1="354.70" y1="60.50" x2="354.70" y2="69.50"/>
<line x1="353.10" y1="60.50" x2="356.30" y2="60.50"/>
<line x1="353.10" y1="69.50" x2="356.30" y2="69.50"/>
<line x1="351.90" y1="65.00" x2="357.50" y2="65.00"/>
</g>
<circle cx="354.70" cy="59.30" r="1.55" fill="#1fae38"/>
<circle cx="355.70" cy="61.50" r="1.55" fill="#1fae38"/>
<circle cx="354.70" cy="63.60" r="1.55" fill="#1fae38"/>
<circle cx="353.70" cy="66.20" r="1.55" fill="#1fae38"/>
<circle cx="354.70" cy="67.90" r="1.55" fill="#1fae38"/>
<circle cx="354.70" cy="71.50" r="1.55" fill="#1fae38"/>
<g stroke="#571a78" stroke-width="0.75" stroke-opacity="0.55">
<line x1="361.10" y1="60.50" x2="361.10" y2="68.50"/>
<line x1="359.50" y1="60.50" x2="362.70" y2="60.50"/>
<line x1="359.50" y1="68.50" x2="362.70" y2="68.50"/>
<line x1="358.30" y1="64.50" x2="363.90" y2="64.50"/>
</g>
<circle cx="361.10" cy="59.30" r="1.55" fill="#571a78"/>
<circle cx="362.10" cy="61.50" r="1.55" fill="#571a78"/>
<circle cx="361.10" cy="63.60" r="1.55" fill="#571a78"/>
<circle cx="360.10" cy="65.80" r="1.55" fill="#571a78"/>
<circle cx="361.10" cy="67.90" r="1.55" fill="#571a78"/>
<circle cx="362.10" cy="69.60" r="1.55" fill="#571a78"/>
<g stroke="#cc0f32" stroke-width="0.75" stroke-opacity="0.55">
<line x1="371.10" y1="60.60" x2="371.10" y2="79.00"/>
<line x1="369.50" y1="60.60" x2="372.70" y2="60.60"/>
<line x1="369.50" y1="79.00" x2="372.70" y2="79.00"/>
<line x1="368.30" y1="70.00" x2="373.90" y2="70.00"/>
</g>
<circle cx="371.10" cy="55.50" r="1.55" fill="#cc0f32"/>
<circle cx="371.10" cy="69.10" r="1.55" fill="#cc0f32"/>
<circle cx="372.10" cy="71.30" r="1.55" fill="#cc0f32"/>
<circle cx="371.10" cy="72.90" r="1.55" fill="#cc0f32"/>
<circle cx="370.10" cy="75.10" r="1.55" fill="#cc0f32"/>
<circle cx="371.10" cy="76.70" r="1.55" fill="#cc0f32"/>
<g stroke="#0f4a8a" stroke-width="0.75" stroke-opacity="0.55">
<line x1="377.80" y1="73.00" x2="377.80" y2="89.00"/>
<line x1="376.20" y1="73.00" x2="379.40" y2="73.00"/>
<line x1="376.20" y1="89.00" x2="379.40" y2="89.00"/>
<line x1="375.00" y1="81.00" x2="380.60" y2="81.00"/>
</g>
<circle cx="377.80" cy="72.90" r="1.55" fill="#0f4a8a"/>
<circle cx="378.80" cy="75.10" r="1.55" fill="#0f4a8a"/>
<circle cx="377.80" cy="78.40" r="1.55" fill="#0f4a8a"/>
<circle cx="376.80" cy="80.70" r="1.55" fill="#0f4a8a"/>
<circle cx="377.80" cy="82.40" r="1.55" fill="#0f4a8a"/>
<circle cx="378.80" cy="85.10" r="1.55" fill="#0f4a8a"/>
<circle cx="377.80" cy="94.50" r="1.55" fill="#0f4a8a"/>
<g stroke="#1fae38" stroke-width="0.75" stroke-opacity="0.55">
<line x1="384.10" y1="68.50" x2="384.10" y2="85.50"/>
<line x1="382.50" y1="68.50" x2="385.70" y2="68.50"/>
<line x1="382.50" y1="85.50" x2="385.70" y2="85.50"/>
<line x1="381.30" y1="77.00" x2="386.90" y2="77.00"/>
</g>
<circle cx="384.10" cy="66.60" r="1.55" fill="#1fae38"/>
<circle cx="385.10" cy="68.40" r="1.55" fill="#1fae38"/>
<circle cx="384.10" cy="76.20" r="1.55" fill="#1fae38"/>
<circle cx="383.10" cy="78.00" r="1.55" fill="#1fae38"/>
<circle cx="384.10" cy="80.70" r="1.55" fill="#1fae38"/>
<circle cx="385.10" cy="82.90" r="1.55" fill="#1fae38"/>
<circle cx="384.10" cy="86.90" r="1.55" fill="#1fae38"/>
<g stroke="#571a78" stroke-width="0.75" stroke-opacity="0.55">
<line x1="390.50" y1="75.50" x2="390.50" y2="87.50"/>
<line x1="388.90" y1="75.50" x2="392.10" y2="75.50"/>
<line x1="388.90" y1="87.50" x2="392.10" y2="87.50"/>
<line x1="387.70" y1="81.50" x2="393.30" y2="81.50"/>
</g>
<circle cx="390.50" cy="72.90" r="1.55" fill="#571a78"/>
<circle cx="390.50" cy="77.30" r="1.55" fill="#571a78"/>
<circle cx="390.50" cy="80.20" r="1.55" fill="#571a78"/>
<circle cx="391.50" cy="82.90" r="1.55" fill="#571a78"/>
<circle cx="390.50" cy="85.60" r="1.55" fill="#571a78"/>
<circle cx="390.50" cy="88.50" r="1.55" fill="#571a78"/>
<g stroke="#cc0f32" stroke-width="0.75" stroke-opacity="0.55">
<line x1="400.60" y1="62.00" x2="400.60" y2="81.00"/>
<line x1="399.00" y1="62.00" x2="402.20" y2="62.00"/>
<line x1="399.00" y1="81.00" x2="402.20" y2="81.00"/>
<line x1="397.80" y1="71.50" x2="403.40" y2="71.50"/>
</g>
<circle cx="400.60" cy="56.60" r="1.55" fill="#cc0f32"/>
<circle cx="400.60" cy="68.40" r="1.55" fill="#cc0f32"/>
<circle cx="401.60" cy="70.60" r="1.55" fill="#cc0f32"/>
<circle cx="400.60" cy="72.90" r="1.55" fill="#cc0f32"/>
<circle cx="399.60" cy="75.10" r="1.55" fill="#cc0f32"/>
<circle cx="400.60" cy="77.30" r="1.55" fill="#cc0f32"/>
<circle cx="401.60" cy="79.60" r="1.55" fill="#cc0f32"/>
<g stroke="#0f4a8a" stroke-width="0.75" stroke-opacity="0.55">
<line x1="406.80" y1="85.00" x2="406.80" y2="94.50"/>
<line x1="405.20" y1="85.00" x2="408.40" y2="85.00"/>
<line x1="405.20" y1="94.50" x2="408.40" y2="94.50"/>
<line x1="404.00" y1="89.90" x2="409.60" y2="89.90"/>
</g>
<circle cx="406.80" cy="84.70" r="1.55" fill="#0f4a8a"/>
<circle cx="407.80" cy="86.90" r="1.55" fill="#0f4a8a"/>
<circle cx="406.80" cy="89.60" r="1.55" fill="#0f4a8a"/>
<circle cx="405.80" cy="91.80" r="1.55" fill="#0f4a8a"/>
<circle cx="406.80" cy="96.30" r="1.55" fill="#0f4a8a"/>
<g stroke="#1fae38" stroke-width="0.75" stroke-opacity="0.55">
<line x1="413.10" y1="75.00" x2="413.10" y2="94.00"/>
<line x1="411.50" y1="75.00" x2="414.70" y2="75.00"/>
<line x1="411.50" y1="94.00" x2="414.70" y2="94.00"/>
<line x1="410.30" y1="84.50" x2="415.90" y2="84.50"/>
</g>
<circle cx="413.10" cy="74.60" r="1.55" fill="#1fae38"/>
<circle cx="413.10" cy="78.40" r="1.55" fill="#1fae38"/>
<circle cx="414.10" cy="80.20" r="1.55" fill="#1fae38"/>
<circle cx="413.10" cy="82.40" r="1.55" fill="#1fae38"/>
<circle cx="413.10" cy="93.00" r="1.55" fill="#1fae38"/>
<circle cx="413.10" cy="98.00" r="1.55" fill="#1fae38"/>
<g stroke="#571a78" stroke-width="0.75" stroke-opacity="0.55">
<line x1="419.70" y1="74.50" x2="419.70" y2="86.50"/>
<line x1="418.10" y1="74.50" x2="421.30" y2="74.50"/>
<line x1="418.10" y1="86.50" x2="421.30" y2="86.50"/>
<line x1="416.90" y1="80.50" x2="422.50" y2="80.50"/>
</g>
<circle cx="419.70" cy="72.90" r="1.55" fill="#571a78"/>
<circle cx="420.70" cy="75.10" r="1.55" fill="#571a78"/>
<circle cx="419.70" cy="78.40" r="1.55" fill="#571a78"/>
<circle cx="419.70" cy="82.90" r="1.55" fill="#571a78"/>
<circle cx="418.70" cy="85.10" r="1.55" fill="#571a78"/>
<circle cx="419.70" cy="88.50" r="1.55" fill="#571a78"/>
<text x="435.20" y="15.80" font-size="10.60" text-anchor="start" fill="#000" font-weight="bold" >D</text>
<text x="484.80" y="33.10" font-size="8.60" text-anchor="middle" fill="#2a2a2a" textLength="18.90" lengthAdjust="spacingAndGlyphs" >PDX1</text>
<line x1="456.70" y1="125.50" x2="456.70" y2="47.98" stroke="#333333" stroke-width="1.40" />
<line x1="454.30" y1="124.90" x2="456.70" y2="124.90" stroke="#333333" stroke-width="1.00" />
<text x="450.70" y="127.90" font-size="8.60" text-anchor="end" fill="#2a2a2a" textLength="3.87" lengthAdjust="spacingAndGlyphs" style="stroke-width:0.05px">0</text>
<line x1="454.30" y1="99.46" x2="456.70" y2="99.46" stroke="#333333" stroke-width="1.00" />
<text x="450.70" y="102.46" font-size="8.60" text-anchor="end" fill="#2a2a2a" textLength="3.87" lengthAdjust="spacingAndGlyphs" style="stroke-width:0.05px">2</text>
<line x1="454.30" y1="74.02" x2="456.70" y2="74.02" stroke="#333333" stroke-width="1.00" />
<text x="450.70" y="77.02" font-size="8.60" text-anchor="end" fill="#2a2a2a" textLength="3.87" lengthAdjust="spacingAndGlyphs" style="stroke-width:0.05px">4</text>
<line x1="454.30" y1="48.58" x2="456.70" y2="48.58" stroke="#333333" stroke-width="1.00" />
<text x="450.70" y="51.58" font-size="8.60" text-anchor="end" fill="#2a2a2a" textLength="3.87" lengthAdjust="spacingAndGlyphs" style="stroke-width:0.05px">6</text>
<line x1="456.00" y1="124.90" x2="513.60" y2="124.90" stroke="#333333" stroke-width="1.40" />
<line x1="468.50" y1="124.90" x2="468.50" y2="127.50" stroke="#333333" stroke-width="1.00" />
<line x1="480.50" y1="124.90" x2="480.50" y2="127.50" stroke="#333333" stroke-width="1.00" />
<line x1="492.60" y1="124.90" x2="492.60" y2="127.50" stroke="#333333" stroke-width="1.00" />
<line x1="504.70" y1="124.90" x2="504.70" y2="127.50" stroke="#333333" stroke-width="1.00" />
<text transform="translate(470.90,135.70) rotate(-45)" x="0" y="0" font-size="8.40" text-anchor="end" fill="#2a2a2a" textLength="22.75" lengthAdjust="spacingAndGlyphs">Vehicle</text>
<text transform="translate(482.90,135.70) rotate(-45)" x="0" y="0" font-size="8.40" text-anchor="end" fill="#2a2a2a" textLength="12.16" lengthAdjust="spacingAndGlyphs">Pev</text>
<text transform="translate(495.00,135.70) rotate(-45)" x="0" y="0" font-size="8.40" text-anchor="end" fill="#2a2a2a" textLength="12.55" lengthAdjust="spacingAndGlyphs">Rux</text>
<text transform="translate(507.10,135.70) rotate(-45)" x="0" y="0" font-size="8.40" text-anchor="end" fill="#2a2a2a" textLength="32.75" lengthAdjust="spacingAndGlyphs">Rux + Pev</text>
<text transform="translate(440.30,86.60) rotate(-90)" x="0" y="3.53" font-size="9.80" text-anchor="middle" fill="#2a2a2a" textLength="93.20" lengthAdjust="spacingAndGlyphs">Erythroid from hCD45- in BM (%)</text>
<path d="M468.30 51.20 V49.90 H504.70 V51.20" fill="none" stroke="#6a6a6a" stroke-width="0.8"/>
<text x="486.50" y="49.85" font-size="5.60" text-anchor="middle" fill="#222" style="stroke:#222;stroke-width:0.15px">**</text>
<path d="M492.40 55.30 V54.00 H504.70 V55.30" fill="none" stroke="#6a6a6a" stroke-width="0.8"/>
<text x="498.55" y="55.05" font-size="5.60" text-anchor="middle" fill="#222" style="stroke:#222;stroke-width:0.15px">**</text>
<g stroke="#cc0f32" stroke-width="0.75" stroke-opacity="0.55">
<line x1="468.50" y1="69.00" x2="468.50" y2="102.50"/>
<line x1="466.90" y1="69.00" x2="470.10" y2="69.00"/>
<line x1="466.90" y1="102.50" x2="470.10" y2="102.50"/>
<line x1="465.70" y1="85.50" x2="471.30" y2="85.50"/>
</g>
<circle cx="468.50" cy="61.20" r="1.55" fill="#cc0f32"/>
<circle cx="468.50" cy="68.30" r="1.55" fill="#cc0f32"/>
<circle cx="468.50" cy="83.10" r="1.55" fill="#cc0f32"/>
<circle cx="465.80" cy="93.40" r="1.55" fill="#cc0f32"/>
<circle cx="468.50" cy="93.40" r="1.55" fill="#cc0f32"/>
<circle cx="470.90" cy="93.40" r="1.55" fill="#cc0f32"/>
<circle cx="468.50" cy="103.00" r="1.55" fill="#cc0f32"/>
<g stroke="#0f4a8a" stroke-width="0.75" stroke-opacity="0.55">
<line x1="480.50" y1="75.50" x2="480.50" y2="105.50"/>
<line x1="478.90" y1="75.50" x2="482.10" y2="75.50"/>
<line x1="478.90" y1="105.50" x2="482.10" y2="105.50"/>
<line x1="477.70" y1="90.70" x2="483.30" y2="90.70"/>
</g>
<circle cx="480.50" cy="58.20" r="1.55" fill="#0f4a8a"/>
<circle cx="480.50" cy="87.40" r="1.55" fill="#0f4a8a"/>
<circle cx="480.50" cy="95.30" r="1.55" fill="#0f4a8a"/>
<circle cx="477.70" cy="99.00" r="1.55" fill="#0f4a8a"/>
<circle cx="483.30" cy="99.00" r="1.55" fill="#0f4a8a"/>
<circle cx="480.50" cy="105.30" r="1.55" fill="#0f4a8a"/>
<g stroke="#1fae38" stroke-width="0.75" stroke-opacity="0.55">
<line x1="492.60" y1="70.00" x2="492.60" y2="92.00"/>
<line x1="491.00" y1="70.00" x2="494.20" y2="70.00"/>
<line x1="491.00" y1="92.00" x2="494.20" y2="92.00"/>
<line x1="489.80" y1="82.00" x2="495.40" y2="82.00"/>
</g>
<circle cx="492.60" cy="58.80" r="1.55" fill="#1fae38"/>
<circle cx="495.20" cy="77.60" r="1.55" fill="#1fae38"/>
<circle cx="493.40" cy="79.40" r="1.55" fill="#1fae38"/>
<circle cx="489.90" cy="86.40" r="1.55" fill="#1fae38"/>
<circle cx="492.50" cy="87.30" r="1.55" fill="#1fae38"/>
<circle cx="495.20" cy="87.30" r="1.55" fill="#1fae38"/>
<circle cx="492.60" cy="96.90" r="1.55" fill="#1fae38"/>
<g stroke="#571a78" stroke-width="0.75" stroke-opacity="0.55">
<line x1="504.70" y1="100.00" x2="504.70" y2="116.50"/>
<line x1="503.10" y1="100.00" x2="506.30" y2="100.00"/>
<line x1="503.10" y1="116.50" x2="506.30" y2="116.50"/>
<line x1="501.90" y1="108.00" x2="507.50" y2="108.00"/>
</g>
<circle cx="503.00" cy="102.20" r="1.55" fill="#571a78"/>
<circle cx="506.60" cy="103.00" r="1.55" fill="#571a78"/>
<circle cx="502.20" cy="105.70" r="1.55" fill="#571a78"/>
<circle cx="507.40" cy="105.70" r="1.55" fill="#571a78"/>
<circle cx="503.90" cy="108.30" r="1.55" fill="#571a78"/>
<circle cx="504.70" cy="110.90" r="1.55" fill="#571a78"/>
<circle cx="504.70" cy="125.00" r="1.55" fill="#571a78"/>
<text x="5.90" y="171.60" font-size="10.60" text-anchor="start" fill="#000" font-weight="bold" >E</text>
<text x="64.10" y="183.90" font-size="8.60" text-anchor="middle" fill="#2a2a2a" textLength="18.30" lengthAdjust="spacingAndGlyphs" >PDX1</text>
<line x1="34.60" y1="272.80" x2="34.60" y2="195.40" stroke="#333333" stroke-width="1.40" />
<line x1="32.20" y1="272.20" x2="34.60" y2="272.20" stroke="#333333" stroke-width="1.00" />
<text x="29.70" y="275.20" font-size="8.60" text-anchor="end" fill="#2a2a2a" textLength="9.68" lengthAdjust="spacingAndGlyphs" style="stroke-width:0.05px">0.0</text>
<line x1="32.20" y1="246.80" x2="34.60" y2="246.80" stroke="#333333" stroke-width="1.00" />
<text x="29.70" y="249.80" font-size="8.60" text-anchor="end" fill="#2a2a2a" textLength="9.68" lengthAdjust="spacingAndGlyphs" style="stroke-width:0.05px">0.5</text>
<line x1="32.20" y1="221.40" x2="34.60" y2="221.40" stroke="#333333" stroke-width="1.00" />
<text x="29.70" y="224.40" font-size="8.60" text-anchor="end" fill="#2a2a2a" textLength="9.68" lengthAdjust="spacingAndGlyphs" style="stroke-width:0.05px">1.0</text>
<line x1="32.20" y1="196.00" x2="34.60" y2="196.00" stroke="#333333" stroke-width="1.00" />
<text x="29.70" y="199.00" font-size="8.60" text-anchor="end" fill="#2a2a2a" textLength="9.68" lengthAdjust="spacingAndGlyphs" style="stroke-width:0.05px">1.5</text>
<line x1="33.90" y1="272.20" x2="94.50" y2="272.20" stroke="#333333" stroke-width="1.40" />
<line x1="46.20" y1="272.20" x2="46.20" y2="274.80" stroke="#333333" stroke-width="1.00" />
<line x1="58.20" y1="272.20" x2="58.20" y2="274.80" stroke="#333333" stroke-width="1.00" />
<line x1="70.30" y1="272.20" x2="70.30" y2="274.80" stroke="#333333" stroke-width="1.00" />
<line x1="82.50" y1="272.20" x2="82.50" y2="274.80" stroke="#333333" stroke-width="1.00" />
<text transform="translate(48.60,282.60) rotate(-45)" x="0" y="0" font-size="8.40" text-anchor="end" fill="#2a2a2a" textLength="22.75" lengthAdjust="spacingAndGlyphs">Vehicle</text>
<text transform="translate(60.60,282.60) rotate(-45)" x="0" y="0" font-size="8.40" text-anchor="end" fill="#2a2a2a" textLength="12.16" lengthAdjust="spacingAndGlyphs">Pev</text>
<text transform="translate(72.70,282.60) rotate(-45)" x="0" y="0" font-size="8.40" text-anchor="end" fill="#2a2a2a" textLength="12.55" lengthAdjust="spacingAndGlyphs">Rux</text>
<text transform="translate(84.90,282.60) rotate(-45)" x="0" y="0" font-size="8.40" text-anchor="end" fill="#2a2a2a" textLength="32.75" lengthAdjust="spacingAndGlyphs">Rux + Pev</text>
<text transform="translate(11.90,233.90) rotate(-90)" x="0" y="3.53" font-size="9.80" text-anchor="middle" fill="#2a2a2a" textLength="70.80" lengthAdjust="spacingAndGlyphs">Normalized spleen weight</text>
<path d="M46.30 203.30 V202.00 H82.10 V203.30" fill="none" stroke="#6a6a6a" stroke-width="0.8"/>
<text x="64.20" y="203.25" font-size="5.60" text-anchor="middle" fill="#222" style="stroke:#222;stroke-width:0.15px">*</text>
<g stroke="#cc0f32" stroke-width="0.75" stroke-opacity="0.55">
<line x1="46.20" y1="221.50" x2="46.20" y2="250.00"/>
<line x1="44.60" y1="221.50" x2="47.80" y2="221.50"/>
<line x1="44.60" y1="250.00" x2="47.80" y2="250.00"/>
<line x1="43.40" y1="236.30" x2="49.00" y2="236.30"/>
</g>
<circle cx="46.20" cy="211.40" r="1.55" fill="#cc0f32"/>
<circle cx="46.20" cy="221.70" r="1.55" fill="#cc0f32"/>
<circle cx="44.00" cy="236.30" r="1.55" fill="#cc0f32"/>
<circle cx="46.20" cy="236.30" r="1.55" fill="#cc0f32"/>
<circle cx="48.50" cy="236.30" r="1.55" fill="#cc0f32"/>
<circle cx="46.20" cy="247.70" r="1.55" fill="#cc0f32"/>
<circle cx="46.20" cy="252.30" r="1.55" fill="#cc0f32"/>
<g stroke="#0f4a8a" stroke-width="0.75" stroke-opacity="0.55">
<line x1="58.40" y1="232.00" x2="58.40" y2="249.00"/>
<line x1="56.80" y1="232.00" x2="60.00" y2="232.00"/>
<line x1="56.80" y1="249.00" x2="60.00" y2="249.00"/>
<line x1="55.60" y1="238.60" x2="61.20" y2="238.60"/>
</g>
<circle cx="58.40" cy="231.40" r="1.55" fill="#0f4a8a"/>
<circle cx="56.20" cy="236.30" r="1.55" fill="#0f4a8a"/>
<circle cx="60.70" cy="236.30" r="1.55" fill="#0f4a8a"/>
<circle cx="56.20" cy="241.70" r="1.55" fill="#0f4a8a"/>
<circle cx="60.70" cy="241.70" r="1.55" fill="#0f4a8a"/>
<circle cx="58.40" cy="247.20" r="1.55" fill="#0f4a8a"/>
<circle cx="58.40" cy="252.30" r="1.55" fill="#0f4a8a"/>
<g stroke="#1fae38" stroke-width="0.75" stroke-opacity="0.55">
<line x1="70.40" y1="232.00" x2="70.40" y2="253.00"/>
<line x1="68.80" y1="232.00" x2="72.00" y2="232.00"/>
<line x1="68.80" y1="253.00" x2="72.00" y2="253.00"/>
<line x1="67.60" y1="242.80" x2="73.20" y2="242.80"/>
</g>
<circle cx="70.40" cy="226.50" r="1.55" fill="#1fae38"/>
<circle cx="70.40" cy="231.90" r="1.55" fill="#1fae38"/>
<circle cx="68.00" cy="246.80" r="1.55" fill="#1fae38"/>
<circle cx="72.50" cy="246.80" r="1.55" fill="#1fae38"/>
<circle cx="68.00" cy="252.30" r="1.55" fill="#1fae38"/>
<circle cx="70.40" cy="252.30" r="1.55" fill="#1fae38"/>
<circle cx="72.50" cy="252.30" r="1.55" fill="#1fae38"/>
<g stroke="#571a78" stroke-width="0.75" stroke-opacity="0.55">
<line x1="82.50" y1="241.50" x2="82.50" y2="254.00"/>
<line x1="80.90" y1="241.50" x2="84.10" y2="241.50"/>
<line x1="80.90" y1="254.00" x2="84.10" y2="254.00"/>
<line x1="79.70" y1="247.70" x2="85.30" y2="247.70"/>
</g>
<circle cx="80.20" cy="241.40" r="1.55" fill="#571a78"/>
<circle cx="84.90" cy="241.40" r="1.55" fill="#571a78"/>
<circle cx="80.20" cy="247.70" r="1.55" fill="#571a78"/>
<circle cx="84.90" cy="247.70" r="1.55" fill="#571a78"/>
<circle cx="80.20" cy="251.90" r="1.55" fill="#571a78"/>
<circle cx="84.90" cy="251.90" r="1.55" fill="#571a78"/>
<circle cx="82.50" cy="257.70" r="1.55" fill="#571a78"/>
<text x="108.50" y="172.20" font-size="10.60" text-anchor="start" fill="#000" font-weight="bold" >F</text>
<rect x="160.4" y="175.4" width="95.1" height="13.8" fill="none" stroke="#333333" stroke-width="0.9"/>
<text x="207.90" y="185.00" font-size="8.20" text-anchor="middle" fill="#2a2a2a" textLength="87.20" lengthAdjust="spacingAndGlyphs" >MF700869 CD34+ PDX2</text>
<line x1="134.00" y1="272.90" x2="134.00" y2="196.90" stroke="#333333" stroke-width="1.40" />
<line x1="131.60" y1="272.30" x2="134.00" y2="272.30" stroke="#333333" stroke-width="1.00" />
<text x="128.60" y="275.30" font-size="8.60" text-anchor="end" fill="#2a2a2a" textLength="3.87" lengthAdjust="spacingAndGlyphs" style="stroke-width:0.05px">0</text>
<line x1="131.60" y1="253.60" x2="134.00" y2="253.60" stroke="#333333" stroke-width="1.00" />
<text x="128.60" y="256.60" font-size="8.60" text-anchor="end" fill="#2a2a2a" textLength="7.75" lengthAdjust="spacingAndGlyphs" style="stroke-width:0.05px">10</text>
<line x1="131.60" y1="234.90" x2="134.00" y2="234.90" stroke="#333333" stroke-width="1.00" />
<text x="128.60" y="237.90" font-size="8.60" text-anchor="end" fill="#2a2a2a" textLength="7.75" lengthAdjust="spacingAndGlyphs" style="stroke-width:0.05px">20</text>
<line x1="131.60" y1="216.20" x2="134.00" y2="216.20" stroke="#333333" stroke-width="1.00" />
<text x="128.60" y="219.20" font-size="8.60" text-anchor="end" fill="#2a2a2a" textLength="7.75" lengthAdjust="spacingAndGlyphs" style="stroke-width:0.05px">30</text>
<line x1="131.60" y1="197.50" x2="134.00" y2="197.50" stroke="#333333" stroke-width="1.00" />
<text x="128.60" y="200.50" font-size="8.60" text-anchor="end" fill="#2a2a2a" textLength="7.75" lengthAdjust="spacingAndGlyphs" style="stroke-width:0.05px">40</text>
<line x1="133.30" y1="272.30" x2="281.00" y2="272.30" stroke="#333333" stroke-width="1.40" />
<line x1="148.90" y1="272.30" x2="148.90" y2="274.90" stroke="#333333" stroke-width="1.00" />
<line x1="178.20" y1="272.30" x2="178.20" y2="274.90" stroke="#333333" stroke-width="1.00" />
<line x1="207.20" y1="272.30" x2="207.20" y2="274.90" stroke="#333333" stroke-width="1.00" />
<line x1="236.20" y1="272.30" x2="236.20" y2="274.90" stroke="#333333" stroke-width="1.00" />
<line x1="265.60" y1="272.30" x2="265.60" y2="274.90" stroke="#333333" stroke-width="1.00" />
<text x="148.90" y="283.30" font-size="8.60" text-anchor="middle" fill="#2a2a2a" textLength="3.87" lengthAdjust="spacingAndGlyphs" style="stroke-width:0.05px">0</text>
<text x="178.20" y="283.30" font-size="8.60" text-anchor="middle" fill="#2a2a2a" textLength="3.87" lengthAdjust="spacingAndGlyphs" style="stroke-width:0.05px">1</text>
<text x="207.20" y="283.30" font-size="8.60" text-anchor="middle" fill="#2a2a2a" textLength="3.87" lengthAdjust="spacingAndGlyphs" style="stroke-width:0.05px">2</text>
<text x="236.20" y="283.30" font-size="8.60" text-anchor="middle" fill="#2a2a2a" textLength="3.87" lengthAdjust="spacingAndGlyphs" style="stroke-width:0.05px">3</text>
<text x="265.60" y="283.30" font-size="8.60" text-anchor="middle" fill="#2a2a2a" textLength="3.87" lengthAdjust="spacingAndGlyphs" style="stroke-width:0.05px">4</text>
<text x="207.50" y="297.00" font-size="9.80" text-anchor="middle" fill="#2a2a2a" textLength="54.00" lengthAdjust="spacingAndGlyphs" >Treatment (weeks)</text>
<text transform="translate(110.50,235.00) rotate(-90)" x="0" y="3.53" font-size="9.80" text-anchor="middle" fill="#2a2a2a" textLength="47.10" lengthAdjust="spacingAndGlyphs">hCD45 in PB (%)</text>
<circle cx="243.30" cy="198.00" r="1.20" fill="#cc0f32"/>
<text x="238.80" y="200.77" font-size="7.70" text-anchor="end" fill="#2a2a2a" textLength="21.10" lengthAdjust="spacingAndGlyphs" >Vehicle</text>
<circle cx="243.30" cy="206.60" r="1.20" fill="#0f4a8a"/>
<text x="238.80" y="209.37" font-size="7.70" text-anchor="end" fill="#2a2a2a" textLength="11.28" lengthAdjust="spacingAndGlyphs" >Pev</text>
<circle cx="243.30" cy="214.60" r="1.20" fill="#1fae38"/>
<text x="238.80" y="217.37" font-size="7.70" text-anchor="end" fill="#2a2a2a" textLength="11.64" lengthAdjust="spacingAndGlyphs" >Rux</text>
<circle cx="243.30" cy="223.00" r="1.20" fill="#571a78"/>
<text x="238.80" y="225.77" font-size="7.70" text-anchor="end" fill="#2a2a2a" textLength="30.38" lengthAdjust="spacingAndGlyphs" >Rux + Pev</text>
<line x1="165.60" y1="196.70" x2="165.60" y2="205.60" stroke="#5a5a5a" stroke-width="0.80" />
<text transform="translate(165.30,201.15) rotate(90)" x="0" y="0" font-size="5.9" text-anchor="middle" fill="#000" style="stroke:#000;stroke-width:0.2px" textLength="8.90" lengthAdjust="spacingAndGlyphs">****</text>
<line x1="171.20" y1="196.90" x2="171.20" y2="212.30" stroke="#5a5a5a" stroke-width="0.80" />
<text transform="translate(170.70,204.85) rotate(90)" x="0" y="0" font-size="5.9" text-anchor="middle" fill="#000" style="stroke:#000;stroke-width:0.2px" textLength="6.30" lengthAdjust="spacingAndGlyphs">***</text>
<line x1="176.20" y1="196.90" x2="176.20" y2="218.40" stroke="#5a5a5a" stroke-width="0.80" />
<text transform="translate(175.70,207.55) rotate(90)" x="0" y="0" font-size="5.9" text-anchor="middle" fill="#000" style="stroke:#000;stroke-width:0.2px" textLength="8.30" lengthAdjust="spacingAndGlyphs">****</text>
<line x1="181.50" y1="210.00" x2="181.50" y2="218.80" stroke="#5a5a5a" stroke-width="0.80" />
<text transform="translate(180.70,214.05) rotate(90)" x="0" y="0" font-size="5.9" text-anchor="middle" fill="#000" style="stroke:#000;stroke-width:0.2px" textLength="3.50" lengthAdjust="spacingAndGlyphs">**</text>
<g stroke="#cc0f32" stroke-width="0.75" stroke-opacity="0.55">
<line x1="139.90" y1="260.00" x2="139.90" y2="268.00"/>
<line x1="138.30" y1="260.00" x2="141.50" y2="260.00"/>
<line x1="138.30" y1="268.00" x2="141.50" y2="268.00"/>
<line x1="137.10" y1="263.50" x2="142.70" y2="263.50"/>
</g>
<circle cx="138.60" cy="261.10" r="1.55" fill="#cc0f32"/>
<circle cx="141.10" cy="261.10" r="1.55" fill="#cc0f32"/>
<circle cx="139.90" cy="264.00" r="1.55" fill="#cc0f32"/>
<circle cx="139.90" cy="269.30" r="1.55" fill="#cc0f32"/>
<g stroke="#0f4a8a" stroke-width="0.75" stroke-opacity="0.55">
<line x1="146.30" y1="258.50" x2="146.30" y2="267.50"/>
<line x1="144.70" y1="258.50" x2="147.90" y2="258.50"/>
<line x1="144.70" y1="267.50" x2="147.90" y2="267.50"/>
<line x1="143.50" y1="263.00" x2="149.10" y2="263.00"/>
</g>
<circle cx="146.30" cy="257.70" r="1.55" fill="#0f4a8a"/>
<circle cx="146.30" cy="261.70" r="1.55" fill="#0f4a8a"/>
<circle cx="144.90" cy="264.90" r="1.55" fill="#0f4a8a"/>
<circle cx="147.60" cy="264.90" r="1.55" fill="#0f4a8a"/>
<circle cx="146.30" cy="266.90" r="1.55" fill="#0f4a8a"/>
<g stroke="#1fae38" stroke-width="0.75" stroke-opacity="0.55">
<line x1="152.60" y1="261.00" x2="152.60" y2="268.00"/>
<line x1="151.00" y1="261.00" x2="154.20" y2="261.00"/>
<line x1="151.00" y1="268.00" x2="154.20" y2="268.00"/>
<line x1="149.80" y1="264.50" x2="155.40" y2="264.50"/>
</g>
<circle cx="152.60" cy="261.10" r="1.55" fill="#1fae38"/>
<circle cx="151.00" cy="264.90" r="1.55" fill="#1fae38"/>
<circle cx="153.90" cy="264.90" r="1.55" fill="#1fae38"/>
<circle cx="152.60" cy="269.30" r="1.55" fill="#1fae38"/>
<g stroke="#571a78" stroke-width="0.75" stroke-opacity="0.55">
<line x1="158.70" y1="257.00" x2="158.70" y2="265.00"/>
<line x1="157.10" y1="257.00" x2="160.30" y2="257.00"/>
<line x1="157.10" y1="265.00" x2="160.30" y2="265.00"/>
<line x1="155.90" y1="261.00" x2="161.50" y2="261.00"/>
</g>
<circle cx="158.70" cy="256.30" r="1.55" fill="#571a78"/>
<circle cx="159.70" cy="259.20" r="1.55" fill="#571a78"/>
<circle cx="157.30" cy="262.10" r="1.55" fill="#571a78"/>
<circle cx="158.70" cy="262.10" r="1.55" fill="#571a78"/>
<circle cx="160.00" cy="264.90" r="1.55" fill="#571a78"/>
<g stroke="#cc0f32" stroke-width="0.75" stroke-opacity="0.55">
<line x1="169.20" y1="240.00" x2="169.20" y2="260.00"/>
<line x1="167.60" y1="240.00" x2="170.80" y2="240.00"/>
<line x1="167.60" y1="260.00" x2="170.80" y2="260.00"/>
<line x1="166.40" y1="250.00" x2="172.00" y2="250.00"/>
</g>
<circle cx="169.20" cy="235.30" r="1.55" fill="#cc0f32"/>
<circle cx="169.20" cy="242.00" r="1.55" fill="#cc0f32"/>
<circle cx="169.20" cy="249.60" r="1.55" fill="#cc0f32"/>
<circle cx="169.20" cy="255.40" r="1.55" fill="#cc0f32"/>
<circle cx="169.20" cy="260.20" r="1.55" fill="#cc0f32"/>
<circle cx="168.20" cy="261.10" r="1.55" fill="#cc0f32"/>
<g stroke="#0f4a8a" stroke-width="0.75" stroke-opacity="0.55">
<line x1="175.30" y1="267.00" x2="175.30" y2="271.50"/>
<line x1="173.70" y1="267.00" x2="176.90" y2="267.00"/>
<line x1="173.70" y1="271.50" x2="176.90" y2="271.50"/>
<line x1="172.50" y1="269.50" x2="178.10" y2="269.50"/>
</g>
<circle cx="175.30" cy="266.90" r="1.55" fill="#0f4a8a"/>
<circle cx="174.50" cy="268.50" r="1.55" fill="#0f4a8a"/>
<circle cx="176.00" cy="270.00" r="1.55" fill="#0f4a8a"/>
<circle cx="175.30" cy="271.20" r="1.55" fill="#0f4a8a"/>
<g stroke="#1fae38" stroke-width="0.75" stroke-opacity="0.55">
<line x1="181.60" y1="259.00" x2="181.60" y2="270.00"/>
<line x1="180.00" y1="259.00" x2="183.20" y2="259.00"/>
<line x1="180.00" y1="270.00" x2="183.20" y2="270.00"/>
<line x1="178.80" y1="264.50" x2="184.40" y2="264.50"/>
</g>
<circle cx="181.60" cy="257.70" r="1.55" fill="#1fae38"/>
<circle cx="180.70" cy="264.90" r="1.55" fill="#1fae38"/>
<circle cx="182.60" cy="265.90" r="1.55" fill="#1fae38"/>
<circle cx="181.60" cy="271.30" r="1.55" fill="#1fae38"/>
<circle cx="187.80" cy="266.90" r="1.55" fill="#571a78"/>
<circle cx="188.80" cy="269.30" r="1.55" fill="#571a78"/>
<circle cx="187.80" cy="270.80" r="1.55" fill="#571a78"/>
<g stroke="#cc0f32" stroke-width="0.75" stroke-opacity="0.55">
<line x1="198.20" y1="238.00" x2="198.20" y2="257.00"/>
<line x1="196.60" y1="238.00" x2="199.80" y2="238.00"/>
<line x1="196.60" y1="257.00" x2="199.80" y2="257.00"/>
<line x1="195.40" y1="247.50" x2="201.00" y2="247.50"/>
</g>
<circle cx="198.20" cy="233.00" r="1.55" fill="#cc0f32"/>
<circle cx="198.20" cy="239.10" r="1.55" fill="#cc0f32"/>
<circle cx="198.20" cy="246.40" r="1.55" fill="#cc0f32"/>
<circle cx="198.20" cy="249.60" r="1.55" fill="#cc0f32"/>
<circle cx="198.20" cy="254.40" r="1.55" fill="#cc0f32"/>
<circle cx="198.20" cy="261.10" r="1.55" fill="#cc0f32"/>
<circle cx="204.30" cy="266.90" r="1.55" fill="#0f4a8a"/>
<circle cx="205.30" cy="268.80" r="1.55" fill="#0f4a8a"/>
<circle cx="204.30" cy="270.40" r="1.55" fill="#0f4a8a"/>
<g stroke="#1fae38" stroke-width="0.75" stroke-opacity="0.55">
<line x1="210.70" y1="257.50" x2="210.70" y2="265.50"/>
<line x1="209.10" y1="257.50" x2="212.30" y2="257.50"/>
<line x1="209.10" y1="265.50" x2="212.30" y2="265.50"/>
<line x1="207.90" y1="261.60" x2="213.50" y2="261.60"/>
</g>
<circle cx="210.70" cy="256.30" r="1.55" fill="#1fae38"/>
<circle cx="210.70" cy="260.20" r="1.55" fill="#1fae38"/>
<circle cx="211.70" cy="263.00" r="1.55" fill="#1fae38"/>
<circle cx="210.70" cy="266.90" r="1.55" fill="#1fae38"/>
<circle cx="217.20" cy="266.30" r="1.55" fill="#571a78"/>
<circle cx="218.20" cy="268.80" r="1.55" fill="#571a78"/>
<circle cx="217.20" cy="270.70" r="1.55" fill="#571a78"/>
<g stroke="#cc0f32" stroke-width="0.75" stroke-opacity="0.55">
<line x1="227.70" y1="241.00" x2="227.70" y2="257.00"/>
<line x1="226.10" y1="241.00" x2="229.30" y2="241.00"/>
<line x1="226.10" y1="257.00" x2="229.30" y2="257.00"/>
<line x1="224.90" y1="248.80" x2="230.50" y2="248.80"/>
</g>
<circle cx="227.70" cy="240.10" r="1.55" fill="#cc0f32"/>
<circle cx="227.70" cy="243.90" r="1.55" fill="#cc0f32"/>
<circle cx="227.70" cy="246.80" r="1.55" fill="#cc0f32"/>
<circle cx="228.70" cy="249.60" r="1.55" fill="#cc0f32"/>
<circle cx="227.70" cy="263.60" r="1.55" fill="#cc0f32"/>
<circle cx="233.60" cy="264.40" r="1.55" fill="#0f4a8a"/>
<circle cx="234.60" cy="266.90" r="1.55" fill="#0f4a8a"/>
<circle cx="233.60" cy="269.30" r="1.55" fill="#0f4a8a"/>
<circle cx="232.60" cy="270.70" r="1.55" fill="#0f4a8a"/>
<g stroke="#1fae38" stroke-width="0.75" stroke-opacity="0.55">
<line x1="239.70" y1="253.50" x2="239.70" y2="267.50"/>
<line x1="238.10" y1="253.50" x2="241.30" y2="253.50"/>
<line x1="238.10" y1="267.50" x2="241.30" y2="267.50"/>
<line x1="236.90" y1="260.50" x2="242.50" y2="260.50"/>
</g>
<circle cx="239.70" cy="251.00" r="1.55" fill="#1fae38"/>
<circle cx="239.70" cy="255.40" r="1.55" fill="#1fae38"/>
<circle cx="239.70" cy="262.50" r="1.55" fill="#1fae38"/>
<circle cx="239.70" cy="265.90" r="1.55" fill="#1fae38"/>
<circle cx="240.70" cy="267.80" r="1.55" fill="#1fae38"/>
<circle cx="245.80" cy="266.30" r="1.55" fill="#571a78"/>
<circle cx="246.80" cy="268.80" r="1.55" fill="#571a78"/>
<circle cx="245.80" cy="270.40" r="1.55" fill="#571a78"/>
<g stroke="#cc0f32" stroke-width="0.75" stroke-opacity="0.55">
<line x1="256.40" y1="220.10" x2="256.40" y2="264.60"/>
<line x1="254.80" y1="220.10" x2="258.00" y2="220.10"/>
<line x1="254.80" y1="264.60" x2="258.00" y2="264.60"/>
<line x1="253.60" y1="243.00" x2="259.20" y2="243.00"/>
</g>
<circle cx="256.40" cy="201.50" r="1.55" fill="#cc0f32"/>
<circle cx="256.40" cy="236.00" r="1.55" fill="#cc0f32"/>
<circle cx="256.40" cy="247.40" r="1.55" fill="#cc0f32"/>
<circle cx="256.40" cy="256.00" r="1.55" fill="#cc0f32"/>
<circle cx="256.40" cy="262.30" r="1.55" fill="#cc0f32"/>
<circle cx="263.00" cy="266.10" r="1.55" fill="#0f4a8a"/>
<circle cx="264.00" cy="269.00" r="1.55" fill="#0f4a8a"/>
<g stroke="#1fae38" stroke-width="0.75" stroke-opacity="0.55">
<line x1="268.70" y1="259.00" x2="268.70" y2="267.00"/>
<line x1="267.10" y1="259.00" x2="270.30" y2="259.00"/>
<line x1="267.10" y1="267.00" x2="270.30" y2="267.00"/>
<line x1="265.90" y1="263.00" x2="271.50" y2="263.00"/>
</g>
<circle cx="268.70" cy="258.30" r="1.55" fill="#1fae38"/>
<circle cx="268.70" cy="261.80" r="1.55" fill="#1fae38"/>
<circle cx="268.70" cy="265.20" r="1.55" fill="#1fae38"/>
<circle cx="268.70" cy="268.10" r="1.55" fill="#1fae38"/>
<circle cx="275.00" cy="266.10" r="1.55" fill="#571a78"/>
<circle cx="276.00" cy="269.00" r="1.55" fill="#571a78"/>
<text x="293.30" y="171.90" font-size="10.60" text-anchor="start" fill="#000" font-weight="bold" >G</text>
<text x="347.40" y="183.90" font-size="8.60" text-anchor="middle" fill="#2a2a2a" textLength="19.00" lengthAdjust="spacingAndGlyphs" >PDX2</text>
<line x1="317.40" y1="274.60" x2="317.40" y2="197.40" stroke="#333333" stroke-width="1.40" />
<line x1="315.00" y1="274.00" x2="317.40" y2="274.00" stroke="#333333" stroke-width="1.00" />
<text x="314.20" y="277.00" font-size="8.60" text-anchor="end" fill="#2a2a2a" textLength="3.87" lengthAdjust="spacingAndGlyphs" style="stroke-width:0.05px">0</text>
<line x1="315.00" y1="258.80" x2="317.40" y2="258.80" stroke="#333333" stroke-width="1.00" />
<text x="314.20" y="261.80" font-size="8.60" text-anchor="end" fill="#2a2a2a" textLength="7.75" lengthAdjust="spacingAndGlyphs" style="stroke-width:0.05px">10</text>
<line x1="315.00" y1="243.60" x2="317.40" y2="243.60" stroke="#333333" stroke-width="1.00" />
<text x="314.20" y="246.60" font-size="8.60" text-anchor="end" fill="#2a2a2a" textLength="7.75" lengthAdjust="spacingAndGlyphs" style="stroke-width:0.05px">20</text>
<line x1="315.00" y1="228.40" x2="317.40" y2="228.40" stroke="#333333" stroke-width="1.00" />
<text x="314.20" y="231.40" font-size="8.60" text-anchor="end" fill="#2a2a2a" textLength="7.75" lengthAdjust="spacingAndGlyphs" style="stroke-width:0.05px">30</text>
<line x1="315.00" y1="213.20" x2="317.40" y2="213.20" stroke="#333333" stroke-width="1.00" />
<text x="314.20" y="216.20" font-size="8.60" text-anchor="end" fill="#2a2a2a" textLength="7.75" lengthAdjust="spacingAndGlyphs" style="stroke-width:0.05px">40</text>
<line x1="315.00" y1="198.00" x2="317.40" y2="198.00" stroke="#333333" stroke-width="1.00" />
<text x="314.20" y="201.00" font-size="8.60" text-anchor="end" fill="#2a2a2a" textLength="7.75" lengthAdjust="spacingAndGlyphs" style="stroke-width:0.05px">50</text>
<line x1="316.70" y1="274.00" x2="376.80" y2="274.00" stroke="#333333" stroke-width="1.40" />
<line x1="329.30" y1="274.00" x2="329.30" y2="276.60" stroke="#333333" stroke-width="1.00" />
<line x1="341.10" y1="274.00" x2="341.10" y2="276.60" stroke="#333333" stroke-width="1.00" />
<line x1="352.90" y1="274.00" x2="352.90" y2="276.60" stroke="#333333" stroke-width="1.00" />
<line x1="365.10" y1="274.00" x2="365.10" y2="276.60" stroke="#333333" stroke-width="1.00" />
<text transform="translate(331.70,284.60) rotate(-45)" x="0" y="0" font-size="8.40" text-anchor="end" fill="#2a2a2a" textLength="22.75" lengthAdjust="spacingAndGlyphs">Vehicle</text>
<text transform="translate(343.50,284.60) rotate(-45)" x="0" y="0" font-size="8.40" text-anchor="end" fill="#2a2a2a" textLength="12.16" lengthAdjust="spacingAndGlyphs">Pev</text>
<text transform="translate(355.30,284.60) rotate(-45)" x="0" y="0" font-size="8.40" text-anchor="end" fill="#2a2a2a" textLength="12.55" lengthAdjust="spacingAndGlyphs">Rux</text>
<text transform="translate(367.50,284.60) rotate(-45)" x="0" y="0" font-size="8.40" text-anchor="end" fill="#2a2a2a" textLength="32.75" lengthAdjust="spacingAndGlyphs">Rux + Pev</text>
<text transform="translate(298.30,234.30) rotate(-90)" x="0" y="3.53" font-size="9.80" text-anchor="middle" fill="#2a2a2a" textLength="48.40" lengthAdjust="spacingAndGlyphs">hCD45 in BM (%)</text>
<path d="M329.10 194.80 V193.50 H365.00 V194.80" fill="none" stroke="#6a6a6a" stroke-width="0.8"/>
<text x="347.05" y="194.75" font-size="5.60" text-anchor="middle" fill="#222" style="stroke:#222;stroke-width:0.15px">**</text>
<path d="M329.10 198.80 V197.50 H352.70 V198.80" fill="none" stroke="#6a6a6a" stroke-width="0.8"/>
<text x="340.90" y="198.95" font-size="5.60" text-anchor="middle" fill="#222" style="stroke:#222;stroke-width:0.15px">**</text>
<path d="M329.10 203.60 V202.30 H341.30 V203.60" fill="none" stroke="#6a6a6a" stroke-width="0.8"/>
<text x="335.20" y="203.25" font-size="5.60" text-anchor="middle" fill="#222" style="stroke:#222;stroke-width:0.15px">**</text>
<path d="M352.70 203.60 V202.30 H365.00 V203.60" fill="none" stroke="#6a6a6a" stroke-width="0.8"/>
<text x="358.85" y="200.84" font-size="4.00" text-anchor="middle" fill="#222" style="stroke:#222;stroke-width:0.15px">0.13</text>
<g stroke="#cc0f32" stroke-width="0.75" stroke-opacity="0.55">
<line x1="329.30" y1="228.50" x2="329.30" y2="270.00"/>
<line x1="327.70" y1="228.50" x2="330.90" y2="228.50"/>
<line x1="327.70" y1="270.00" x2="330.90" y2="270.00"/>
<line x1="326.50" y1="249.50" x2="332.10" y2="249.50"/>
</g>
<circle cx="329.30" cy="208.80" r="1.55" fill="#cc0f32"/>
<circle cx="329.30" cy="246.50" r="1.55" fill="#cc0f32"/>
<circle cx="326.50" cy="257.20" r="1.55" fill="#cc0f32"/>
<circle cx="329.30" cy="257.20" r="1.55" fill="#cc0f32"/>
<circle cx="332.20" cy="257.20" r="1.55" fill="#cc0f32"/>
<circle cx="329.30" cy="269.10" r="1.55" fill="#cc0f32"/>
<g stroke="#0f4a8a" stroke-width="0.75" stroke-opacity="0.55">
<line x1="341.10" y1="269.50" x2="341.10" y2="273.50"/>
<line x1="339.50" y1="269.50" x2="342.70" y2="269.50"/>
<line x1="339.50" y1="273.50" x2="342.70" y2="273.50"/>
<line x1="338.30" y1="272.00" x2="343.90" y2="272.00"/>
</g>
<circle cx="341.10" cy="268.90" r="1.55" fill="#0f4a8a"/>
<circle cx="339.00" cy="272.20" r="1.55" fill="#0f4a8a"/>
<circle cx="341.10" cy="272.20" r="1.55" fill="#0f4a8a"/>
<circle cx="343.20" cy="272.20" r="1.55" fill="#0f4a8a"/>
<circle cx="341.10" cy="273.40" r="1.55" fill="#0f4a8a"/>
<g stroke="#1fae38" stroke-width="0.75" stroke-opacity="0.55">
<line x1="352.90" y1="266.00" x2="352.90" y2="272.50"/>
<line x1="351.30" y1="266.00" x2="354.50" y2="266.00"/>
<line x1="351.30" y1="272.50" x2="354.50" y2="272.50"/>
<line x1="350.10" y1="269.30" x2="355.70" y2="269.30"/>
</g>
<circle cx="352.90" cy="260.80" r="1.55" fill="#1fae38"/>
<circle cx="352.90" cy="265.80" r="1.55" fill="#1fae38"/>
<circle cx="352.90" cy="270.80" r="1.55" fill="#1fae38"/>
<circle cx="350.80" cy="272.20" r="1.55" fill="#1fae38"/>
<circle cx="355.00" cy="272.20" r="1.55" fill="#1fae38"/>
<g stroke="#571a78" stroke-width="0.75" stroke-opacity="0.55">
<line x1="365.10" y1="268.60" x2="365.10" y2="273.00"/>
<line x1="363.50" y1="268.60" x2="366.70" y2="268.60"/>
<line x1="363.50" y1="273.00" x2="366.70" y2="273.00"/>
<line x1="362.30" y1="270.80" x2="367.90" y2="270.80"/>
</g>
<circle cx="365.10" cy="265.00" r="1.55" fill="#571a78"/>
<circle cx="362.50" cy="272.20" r="1.55" fill="#571a78"/>
<circle cx="365.10" cy="272.20" r="1.55" fill="#571a78"/>
<circle cx="367.70" cy="272.20" r="1.55" fill="#571a78"/>
<text x="400.20" y="172.00" font-size="10.60" text-anchor="start" fill="#000" font-weight="bold" >H</text>
<text x="464.40" y="183.90" font-size="8.60" text-anchor="middle" fill="#2a2a2a" textLength="18.80" lengthAdjust="spacingAndGlyphs" >PDX2</text>
<line x1="434.20" y1="271.10" x2="434.20" y2="194.30" stroke="#333333" stroke-width="1.40" />
<line x1="431.80" y1="270.50" x2="434.20" y2="270.50" stroke="#333333" stroke-width="1.00" />
<text x="428.30" y="273.50" font-size="8.60" text-anchor="end" fill="#2a2a2a" textLength="17.43" lengthAdjust="spacingAndGlyphs" style="stroke-width:0.05px">0.000</text>
<line x1="431.80" y1="255.38" x2="434.20" y2="255.38" stroke="#333333" stroke-width="1.00" />
<text x="428.30" y="258.38" font-size="8.60" text-anchor="end" fill="#2a2a2a" textLength="17.43" lengthAdjust="spacingAndGlyphs" style="stroke-width:0.05px">0.001</text>
<line x1="431.80" y1="240.26" x2="434.20" y2="240.26" stroke="#333333" stroke-width="1.00" />
<text x="428.30" y="243.26" font-size="8.60" text-anchor="end" fill="#2a2a2a" textLength="17.43" lengthAdjust="spacingAndGlyphs" style="stroke-width:0.05px">0.002</text>
<line x1="431.80" y1="225.14" x2="434.20" y2="225.14" stroke="#333333" stroke-width="1.00" />
<text x="428.30" y="228.14" font-size="8.60" text-anchor="end" fill="#2a2a2a" textLength="17.43" lengthAdjust="spacingAndGlyphs" style="stroke-width:0.05px">0.003</text>
<line x1="431.80" y1="210.02" x2="434.20" y2="210.02" stroke="#333333" stroke-width="1.00" />
<text x="428.30" y="213.02" font-size="8.60" text-anchor="end" fill="#2a2a2a" textLength="17.43" lengthAdjust="spacingAndGlyphs" style="stroke-width:0.05px">0.004</text>
<line x1="431.80" y1="194.90" x2="434.20" y2="194.90" stroke="#333333" stroke-width="1.00" />
<text x="428.30" y="197.90" font-size="8.60" text-anchor="end" fill="#2a2a2a" textLength="17.43" lengthAdjust="spacingAndGlyphs" style="stroke-width:0.05px">0.005</text>
<line x1="433.50" y1="270.50" x2="493.70" y2="270.50" stroke="#333333" stroke-width="1.40" />
<line x1="446.20" y1="270.50" x2="446.20" y2="273.10" stroke="#333333" stroke-width="1.00" />
<line x1="458.10" y1="270.50" x2="458.10" y2="273.10" stroke="#333333" stroke-width="1.00" />
<line x1="470.20" y1="270.50" x2="470.20" y2="273.10" stroke="#333333" stroke-width="1.00" />
<line x1="482.30" y1="270.50" x2="482.30" y2="273.10" stroke="#333333" stroke-width="1.00" />
<text transform="translate(448.60,280.90) rotate(-45)" x="0" y="0" font-size="8.40" text-anchor="end" fill="#2a2a2a" textLength="22.75" lengthAdjust="spacingAndGlyphs">Vehicle</text>
<text transform="translate(460.50,280.90) rotate(-45)" x="0" y="0" font-size="8.40" text-anchor="end" fill="#2a2a2a" textLength="12.16" lengthAdjust="spacingAndGlyphs">Pev</text>
<text transform="translate(472.60,280.90) rotate(-45)" x="0" y="0" font-size="8.40" text-anchor="end" fill="#2a2a2a" textLength="12.55" lengthAdjust="spacingAndGlyphs">Rux</text>
<text transform="translate(484.70,280.90) rotate(-45)" x="0" y="0" font-size="8.40" text-anchor="end" fill="#2a2a2a" textLength="32.75" lengthAdjust="spacingAndGlyphs">Rux + Pev</text>
<text transform="translate(402.30,234.00) rotate(-90)" x="0" y="3.53" font-size="9.80" text-anchor="middle" fill="#2a2a2a" textLength="70.50" lengthAdjust="spacingAndGlyphs">Normalized spleen weight</text>
<path d="M445.60 198.20 V196.90 H482.20 V198.20" fill="none" stroke="#6a6a6a" stroke-width="0.8"/>
<text x="463.90" y="198.15" font-size="5.60" text-anchor="middle" fill="#222" style="stroke:#222;stroke-width:0.15px">***</text>
<path d="M445.60 202.50 V201.20 H458.70 V202.50" fill="none" stroke="#6a6a6a" stroke-width="0.8"/>
<text x="452.15" y="202.85" font-size="5.60" text-anchor="middle" fill="#222" style="stroke:#222;stroke-width:0.15px">**</text>
<path d="M470.10 202.50 V201.20 H482.40 V202.50" fill="none" stroke="#6a6a6a" stroke-width="0.8"/>
<text x="476.25" y="202.40" font-size="5.00" text-anchor="middle" fill="#222" style="stroke:#222;stroke-width:0.15px">****</text>
<g stroke="#cc0f32" stroke-width="0.75" stroke-opacity="0.55">
<line x1="446.10" y1="207.50" x2="446.10" y2="236.40"/>
<line x1="444.50" y1="207.50" x2="447.70" y2="207.50"/>
<line x1="444.50" y1="236.40" x2="447.70" y2="236.40"/>
<line x1="443.30" y1="221.90" x2="448.90" y2="221.90"/>
</g>
<circle cx="446.10" cy="207.00" r="1.55" fill="#cc0f32"/>
<circle cx="446.10" cy="210.50" r="1.55" fill="#cc0f32"/>
<circle cx="446.10" cy="217.60" r="1.55" fill="#cc0f32"/>
<circle cx="446.10" cy="220.80" r="1.55" fill="#cc0f32"/>
<circle cx="446.10" cy="226.70" r="1.55" fill="#cc0f32"/>
<circle cx="446.10" cy="248.70" r="1.55" fill="#cc0f32"/>
<g stroke="#0f4a8a" stroke-width="0.75" stroke-opacity="0.55">
<line x1="458.20" y1="238.80" x2="458.20" y2="258.00"/>
<line x1="456.60" y1="238.80" x2="459.80" y2="238.80"/>
<line x1="456.60" y1="258.00" x2="459.80" y2="258.00"/>
<line x1="455.40" y1="249.50" x2="461.00" y2="249.50"/>
</g>
<circle cx="458.20" cy="228.80" r="1.55" fill="#0f4a8a"/>
<circle cx="458.20" cy="244.70" r="1.55" fill="#0f4a8a"/>
<circle cx="455.90" cy="248.70" r="1.55" fill="#0f4a8a"/>
<circle cx="460.70" cy="248.70" r="1.55" fill="#0f4a8a"/>
<circle cx="455.90" cy="254.70" r="1.55" fill="#0f4a8a"/>
<circle cx="460.70" cy="254.70" r="1.55" fill="#0f4a8a"/>
<circle cx="460.70" cy="257.90" r="1.55" fill="#0f4a8a"/>
<circle cx="458.20" cy="264.30" r="1.55" fill="#0f4a8a"/>
<g stroke="#1fae38" stroke-width="0.75" stroke-opacity="0.55">
<line x1="470.10" y1="218.00" x2="470.10" y2="257.00"/>
<line x1="468.50" y1="218.00" x2="471.70" y2="218.00"/>
<line x1="468.50" y1="257.00" x2="471.70" y2="257.00"/>
<line x1="467.30" y1="237.80" x2="472.90" y2="237.80"/>
</g>
<circle cx="470.10" cy="214.00" r="1.55" fill="#1fae38"/>
<circle cx="470.10" cy="219.70" r="1.55" fill="#1fae38"/>
<circle cx="470.10" cy="245.00" r="1.55" fill="#1fae38"/>
<circle cx="472.60" cy="255.00" r="1.55" fill="#1fae38"/>
<circle cx="467.90" cy="257.90" r="1.55" fill="#1fae38"/>
<g stroke="#571a78" stroke-width="0.75" stroke-opacity="0.55">
<line x1="482.20" y1="250.00" x2="482.20" y2="260.00"/>
<line x1="480.60" y1="250.00" x2="483.80" y2="250.00"/>
<line x1="480.60" y1="260.00" x2="483.80" y2="260.00"/>
<line x1="479.40" y1="255.00" x2="485.00" y2="255.00"/>
</g>
<circle cx="480.00" cy="249.50" r="1.55" fill="#571a78"/>
<circle cx="484.40" cy="249.50" r="1.55" fill="#571a78"/>
<circle cx="482.20" cy="251.80" r="1.55" fill="#571a78"/>
<circle cx="480.00" cy="254.70" r="1.55" fill="#571a78"/>
<circle cx="484.40" cy="254.70" r="1.55" fill="#571a78"/>
<circle cx="482.20" cy="256.90" r="1.55" fill="#571a78"/>
<circle cx="483.20" cy="259.50" r="1.55" fill="#571a78"/>
<circle cx="482.20" cy="264.60" r="1.55" fill="#571a78"/>
</svg>
</body></html>
